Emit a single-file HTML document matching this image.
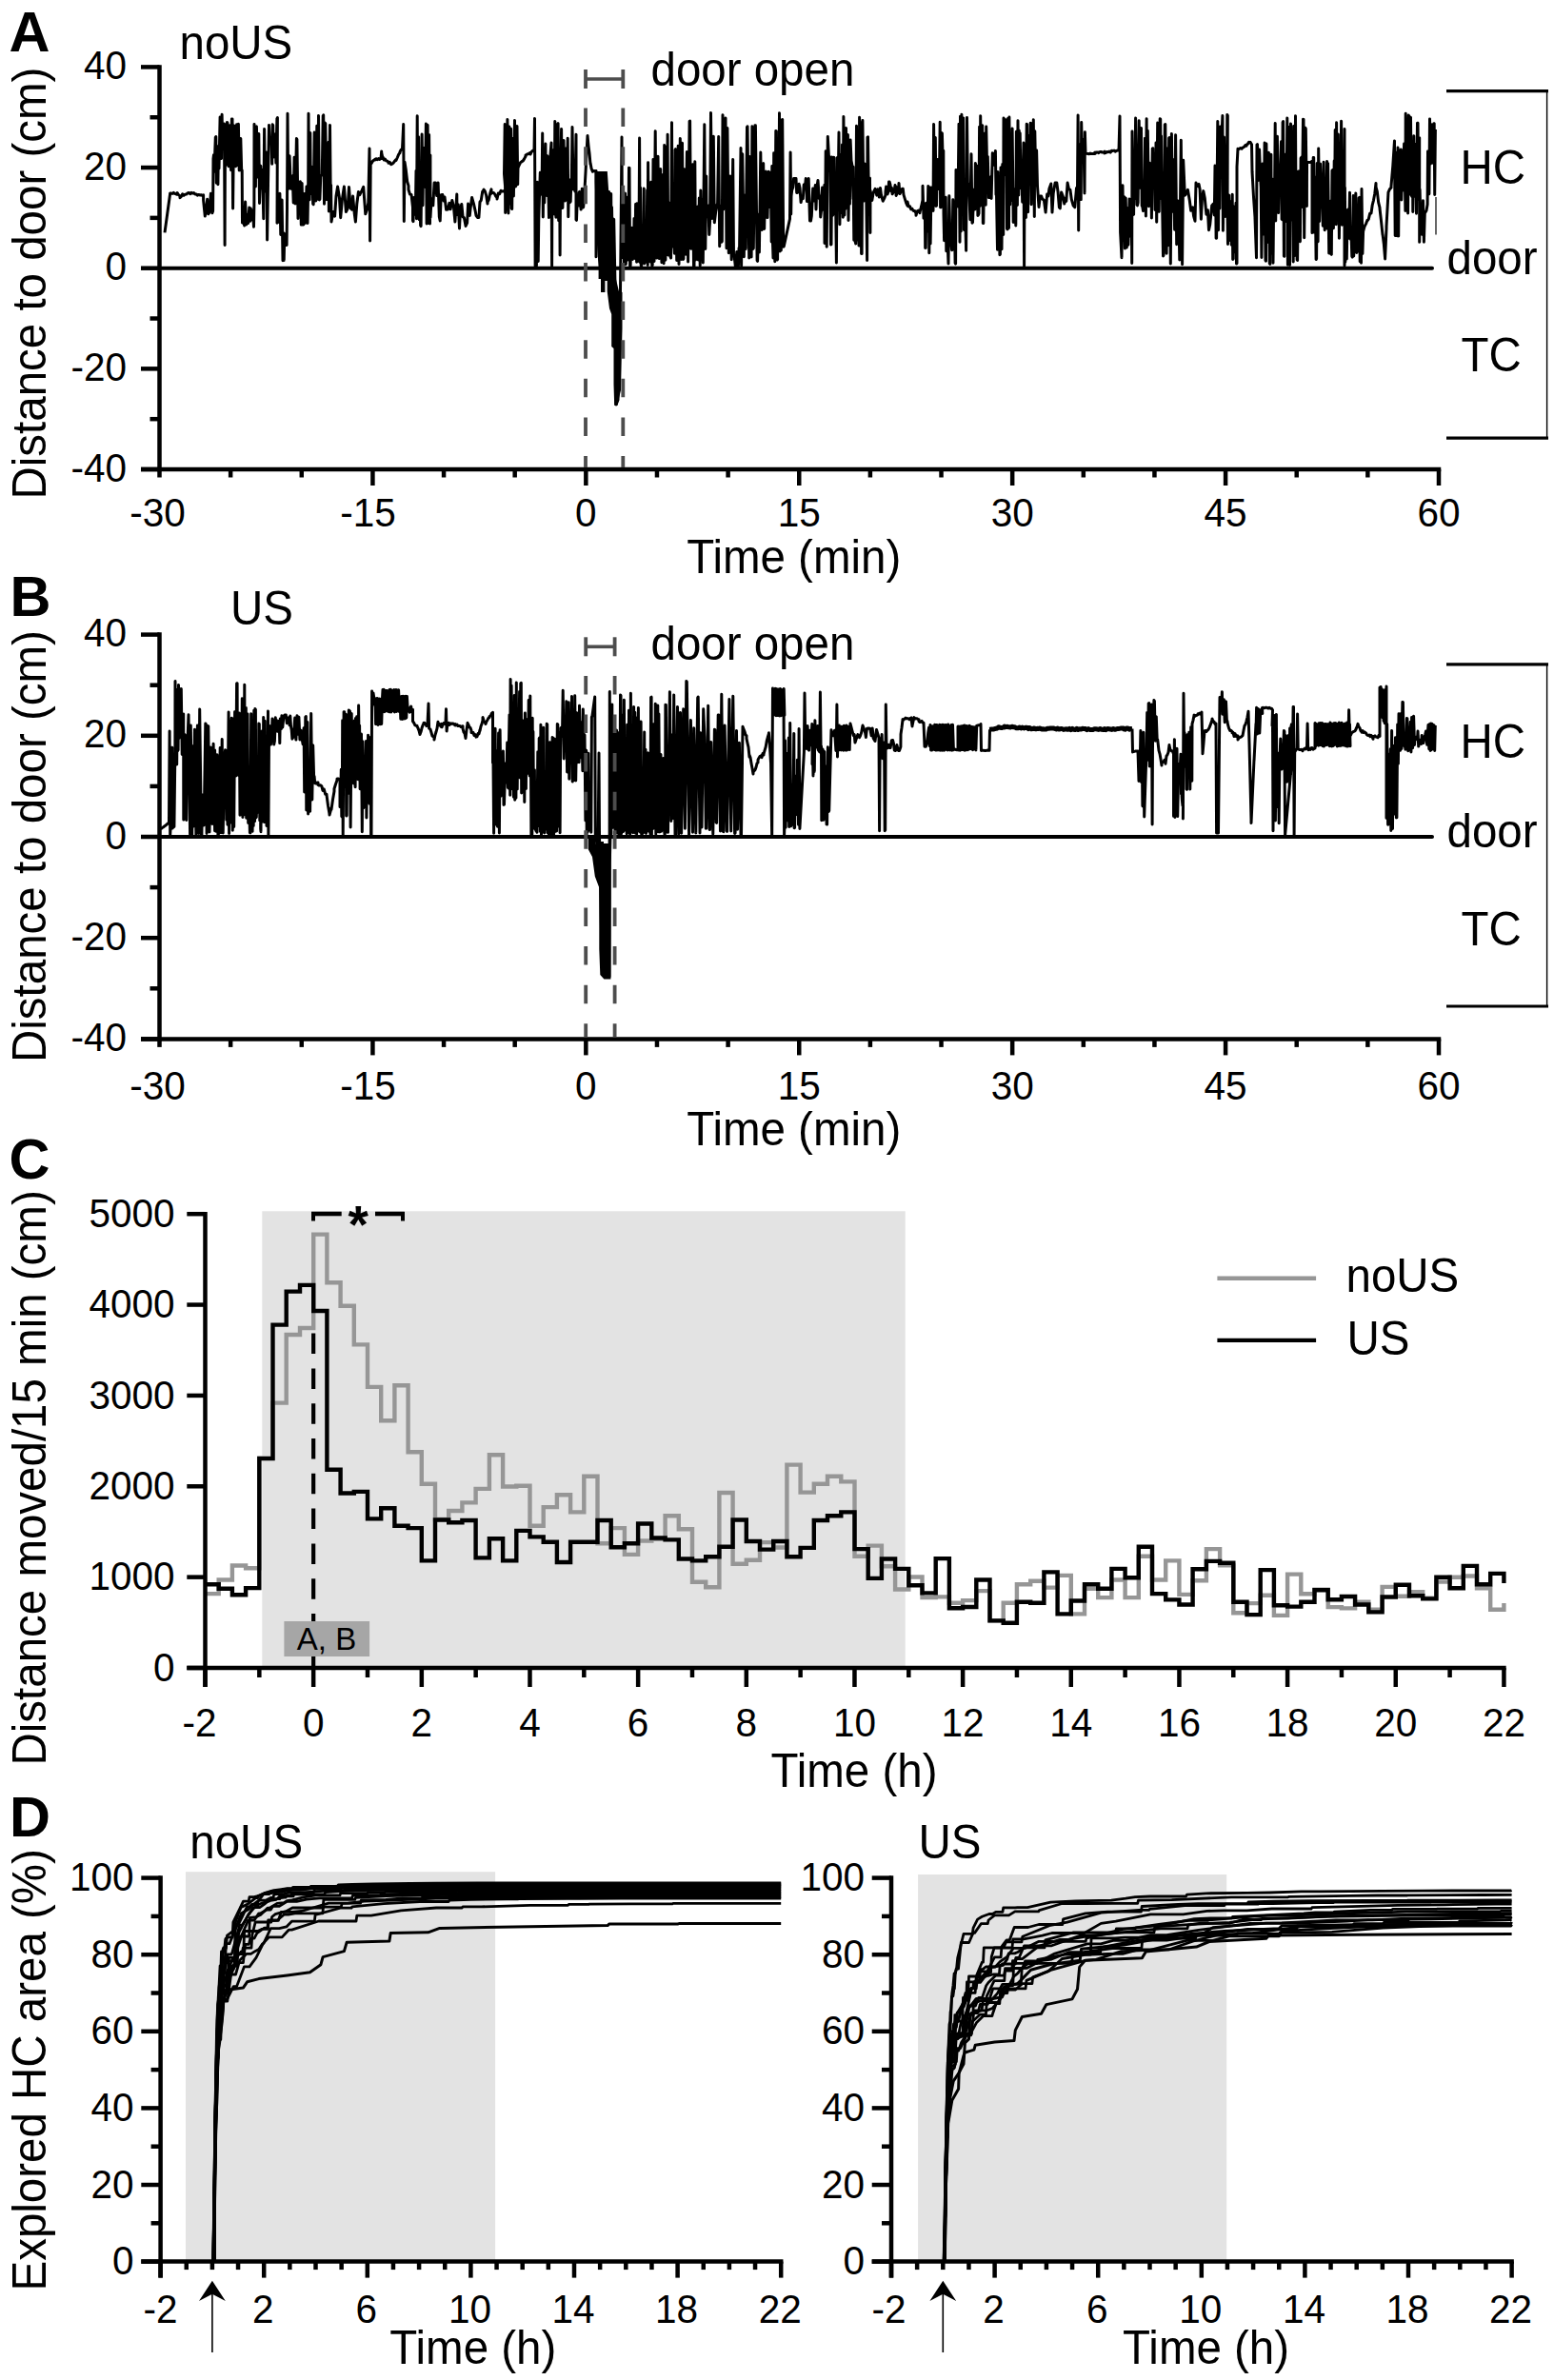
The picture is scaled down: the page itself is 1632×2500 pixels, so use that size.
<!DOCTYPE html>
<html lang="en"><head><meta charset="utf-8"><title>Figure</title>
<style>html,body{margin:0;padding:0;background:#fff}svg{display:block}</style></head>
<body>
<svg width="1632" height="2500" viewBox="0 0 1632 2500" font-family='"Liberation Sans", Arial, Helvetica, sans-serif'>
<rect x="0" y="0" width="1632" height="2500" fill="#fff"/>
<g id="panelA">
<line x1="167.5" y1="68.15" x2="167.5" y2="495.25" stroke="#000" stroke-width="4.5" stroke-linecap="butt"/>
<line x1="148" y1="70.4" x2="167.5" y2="70.4" stroke="#000" stroke-width="4.5" stroke-linecap="butt"/>
<line x1="157.5" y1="123.22500000000001" x2="167.5" y2="123.22500000000001" stroke="#000" stroke-width="4.5" stroke-linecap="butt"/>
<line x1="148" y1="176.05" x2="167.5" y2="176.05" stroke="#000" stroke-width="4.5" stroke-linecap="butt"/>
<line x1="157.5" y1="228.87500000000003" x2="167.5" y2="228.87500000000003" stroke="#000" stroke-width="4.5" stroke-linecap="butt"/>
<line x1="148" y1="281.70000000000005" x2="167.5" y2="281.70000000000005" stroke="#000" stroke-width="4.5" stroke-linecap="butt"/>
<line x1="157.5" y1="334.525" x2="167.5" y2="334.525" stroke="#000" stroke-width="4.5" stroke-linecap="butt"/>
<line x1="148" y1="387.35" x2="167.5" y2="387.35" stroke="#000" stroke-width="4.5" stroke-linecap="butt"/>
<line x1="157.5" y1="440.17500000000007" x2="167.5" y2="440.17500000000007" stroke="#000" stroke-width="4.5" stroke-linecap="butt"/>
<line x1="148" y1="493.0" x2="167.5" y2="493.0" stroke="#000" stroke-width="4.5" stroke-linecap="butt"/>
<text transform="translate(133 83.0) scale(1 1.04)" font-size="40.5" text-anchor="end" font-weight="normal" fill="#000">40</text>
<text transform="translate(133 188.7) scale(1 1.04)" font-size="40.5" text-anchor="end" font-weight="normal" fill="#000">20</text>
<text transform="translate(133 294.3) scale(1 1.04)" font-size="40.5" text-anchor="end" font-weight="normal" fill="#000">0</text>
<text transform="translate(133 400.0) scale(1 1.04)" font-size="40.5" text-anchor="end" font-weight="normal" fill="#000">-20</text>
<text transform="translate(133 505.6) scale(1 1.04)" font-size="40.5" text-anchor="end" font-weight="normal" fill="#000">-40</text>
<line x1="148" y1="493.0" x2="1513.25" y2="493.0" stroke="#000" stroke-width="4.5" stroke-linecap="butt"/>
<line x1="167.5" y1="493.0" x2="167.5" y2="501.5" stroke="#000" stroke-width="4.5" stroke-linecap="butt"/>
<line x1="242.13888888888889" y1="493.0" x2="242.13888888888889" y2="501.5" stroke="#000" stroke-width="4.5" stroke-linecap="butt"/>
<line x1="316.77777777777777" y1="493.0" x2="316.77777777777777" y2="501.5" stroke="#000" stroke-width="4.5" stroke-linecap="butt"/>
<line x1="391.41666666666663" y1="493.0" x2="391.41666666666663" y2="510.0" stroke="#000" stroke-width="4.5" stroke-linecap="butt"/>
<line x1="466.05555555555554" y1="493.0" x2="466.05555555555554" y2="501.5" stroke="#000" stroke-width="4.5" stroke-linecap="butt"/>
<line x1="540.6944444444445" y1="493.0" x2="540.6944444444445" y2="501.5" stroke="#000" stroke-width="4.5" stroke-linecap="butt"/>
<line x1="615.3333333333333" y1="493.0" x2="615.3333333333333" y2="510.0" stroke="#000" stroke-width="4.5" stroke-linecap="butt"/>
<line x1="689.9722222222222" y1="493.0" x2="689.9722222222222" y2="501.5" stroke="#000" stroke-width="4.5" stroke-linecap="butt"/>
<line x1="764.6111111111111" y1="493.0" x2="764.6111111111111" y2="501.5" stroke="#000" stroke-width="4.5" stroke-linecap="butt"/>
<line x1="839.25" y1="493.0" x2="839.25" y2="510.0" stroke="#000" stroke-width="4.5" stroke-linecap="butt"/>
<line x1="913.8888888888889" y1="493.0" x2="913.8888888888889" y2="501.5" stroke="#000" stroke-width="4.5" stroke-linecap="butt"/>
<line x1="988.5277777777777" y1="493.0" x2="988.5277777777777" y2="501.5" stroke="#000" stroke-width="4.5" stroke-linecap="butt"/>
<line x1="1063.1666666666665" y1="493.0" x2="1063.1666666666665" y2="510.0" stroke="#000" stroke-width="4.5" stroke-linecap="butt"/>
<line x1="1137.8055555555557" y1="493.0" x2="1137.8055555555557" y2="501.5" stroke="#000" stroke-width="4.5" stroke-linecap="butt"/>
<line x1="1212.4444444444443" y1="493.0" x2="1212.4444444444443" y2="501.5" stroke="#000" stroke-width="4.5" stroke-linecap="butt"/>
<line x1="1287.0833333333333" y1="493.0" x2="1287.0833333333333" y2="510.0" stroke="#000" stroke-width="4.5" stroke-linecap="butt"/>
<line x1="1361.7222222222222" y1="493.0" x2="1361.7222222222222" y2="501.5" stroke="#000" stroke-width="4.5" stroke-linecap="butt"/>
<line x1="1436.361111111111" y1="493.0" x2="1436.361111111111" y2="501.5" stroke="#000" stroke-width="4.5" stroke-linecap="butt"/>
<line x1="1511.0" y1="493.0" x2="1511.0" y2="510.0" stroke="#000" stroke-width="4.5" stroke-linecap="butt"/>
<text transform="translate(165.5 552.8) scale(1 1.04)" font-size="40.5" text-anchor="middle" font-weight="normal" fill="#000">-30</text>
<text transform="translate(386.4 552.8) scale(1 1.04)" font-size="40.5" text-anchor="middle" font-weight="normal" fill="#000">-15</text>
<text transform="translate(615.3 552.8) scale(1 1.04)" font-size="40.5" text-anchor="middle" font-weight="normal" fill="#000">0</text>
<text transform="translate(839.2 552.8) scale(1 1.04)" font-size="40.5" text-anchor="middle" font-weight="normal" fill="#000">15</text>
<text transform="translate(1063.2 552.8) scale(1 1.04)" font-size="40.5" text-anchor="middle" font-weight="normal" fill="#000">30</text>
<text transform="translate(1287.1 552.8) scale(1 1.04)" font-size="40.5" text-anchor="middle" font-weight="normal" fill="#000">45</text>
<text transform="translate(1511.0 552.8) scale(1 1.04)" font-size="40.5" text-anchor="middle" font-weight="normal" fill="#000">60</text>
<text transform="translate(833.7 602.3) scale(1 1.04)" font-size="47.5" text-anchor="middle" font-weight="normal" fill="#000">Time (min)</text>
<line x1="167.5" y1="281.7" x2="1504" y2="281.7" stroke="#000" stroke-width="4" stroke-linecap="round"/>
<text transform="translate(47.7 524.5) rotate(-90) scale(1 1.04)" font-size="47.5" text-anchor="start" font-weight="normal" fill="#000">Distance to door (cm)</text>
<text transform="translate(9.5 54)" font-size="59.5" text-anchor="start" font-weight="bold" fill="#000">A</text>
<text transform="translate(188.5 61.5) scale(1 1.04)" font-size="47.5" text-anchor="start" font-weight="normal" fill="#000">noUS</text>
<text transform="translate(683.5 89.5) scale(1 1.04)" font-size="47.5" text-anchor="start" font-weight="normal" fill="#000">door open</text>
<line x1="1519" y1="95.7" x2="1626" y2="95.7" stroke="#000" stroke-width="3.2" stroke-linecap="butt"/>
<line x1="1519" y1="460.2" x2="1626" y2="460.2" stroke="#000" stroke-width="3.2" stroke-linecap="butt"/>
<line x1="1624.6" y1="95.7" x2="1624.6" y2="460.2" stroke="#000" stroke-width="1.4" stroke-linecap="butt"/>
<text transform="translate(1533.5 193) scale(1 1.04)" font-size="47.5" text-anchor="start" font-weight="normal" fill="#000">HC</text>
<text transform="translate(1519.5 287.5) scale(1 1.04)" font-size="47.5" text-anchor="start" font-weight="normal" fill="#000">door</text>
<text transform="translate(1534.5 389.5) scale(1 1.04)" font-size="47.5" text-anchor="start" font-weight="normal" fill="#000">TC</text>
<polyline points="173.0,244.4 175.8,224.0 178.6,203.8 178.6,202.9 179.8,203.1 181.1,203.4 182.3,202.4 183.5,203.4 184.8,203.8 186.0,204.3 186.0,202.4 187.5,204.7 189.0,205.9 189.0,207.8 190.3,206.5 191.7,203.8 193.0,205.3 193.0,205.2 194.3,204.3 195.7,204.1 197.0,202.9 198.3,202.4 199.7,203.7 201.0,202.4 201.0,202.7 202.3,203.0 203.5,202.6 204.8,203.9 206.0,203.9 207.3,205.1 208.6,204.4 209.8,204.9 211.1,204.7 212.3,205.3 213.6,204.9 213.6,210.4 215.3,227.0 216.8,216.9 217.7,209.3 218.7,224.8 219.8,223.3 221.4,203.3 222.9,223.8 223.6,221.7 224.0,166.7 224.5,162.7 225.0,180.2 226.3,144.4 226.8,143.6 227.3,192.2 227.8,159.9 228.3,160.4 228.9,193.8 229.4,153.5 230.0,177.0 231.1,123.0 232.0,165.5 232.5,166.5 233.1,120.2 233.7,152.0 234.2,151.2 235.5,130.0 236.1,257.5 236.5,134.5 237.7,173.1 238.5,128.4 239.0,129.2 240.1,174.8 240.6,174.2 241.5,131.7 242.6,178.8 243.4,124.9 244.0,125.0 244.6,219.0 245.0,180.0 246.0,132.1 246.5,132.5 247.0,174.6 247.5,174.7 248.6,130.8 249.1,173.6 249.6,173.1 250.4,130.2 251.2,178.9 251.7,178.7 252.8,145.6 253.7,179.8 254.2,178.9 254.5,233.9 255.0,234.2 255.8,231.2 256.6,236.9 257.6,212.0 258.7,236.0 259.4,225.3 260.6,234.4 261.8,217.9 262.8,232.3 263.3,219.0 264.6,230.8 265.6,220.7 266.5,238.3 266.9,214.8 267.0,130.4 268.4,196.0 268.9,133.5 269.4,132.9 270.9,186.0 271.8,140.4 272.5,213.4 273.8,174.3 274.9,197.7 275.6,178.5 276.8,229.7 277.6,135.4 278.3,200.9 280.0,160.0 280.6,252.0 282.5,131.5 283.3,149.4 283.8,148.4 285.0,144.3 285.7,172.2 286.2,130.8 286.7,131.5 287.3,165.0 287.8,164.1 288.8,141.1 289.9,171.1 290.9,124.6 291.4,123.6 291.0,234.3 291.5,233.8 292.1,203.7 293.0,233.3 293.9,203.2 294.8,246.5 295.3,246.5 296.1,210.0 297.0,273.7 297.5,244.4 298.2,273.4 298.8,245.4 299.5,256.4 300.2,250.4 300.6,257.6 301.1,257.4 301.5,217.9 302.0,119.2 302.7,198.3 303.2,197.6 304.1,163.8 305.4,198.3 306.7,185.4 307.2,184.8 308.2,213.0 309.1,165.2 310.1,214.0 311.4,145.6 311.9,146.3 313.0,229.5 313.9,191.7 314.3,221.3 315.4,190.8 316.3,236.1 317.1,192.4 318.3,236.1 318.8,235.9 320.0,203.4 320.8,234.2 322.0,195.9 322.5,196.5 323.0,234.5 323.7,197.0 324.0,119.3 324.6,209.7 325.1,209.8 325.8,139.6 326.3,203.1 326.8,203.4 327.6,175.2 328.7,214.1 329.2,214.6 330.2,139.0 331.2,209.9 331.7,210.9 332.8,132.3 333.4,208.4 333.9,209.1 334.5,121.4 335.4,209.9 335.9,209.3 336.8,184.7 337.3,184.7 338.3,183.2 339.2,121.8 339.7,120.9 340.5,214.3 341.3,129.1 341.8,129.8 342.9,209.7 343.4,186.0 344.3,196.9 345.1,149.3 345.4,221.9 346.5,131.4 347.1,194.9 347.6,194.3 348.0,233.0 349.9,222.4 351.6,227.2 353.0,205.9 354.6,196.0 356.5,208.1 357.7,228.7 359.5,208.7 361.4,196.0 363.4,222.6 365.1,219.0 366.5,196.5 368.2,218.6 369.7,220.2 370.6,206.1 372.3,224.9 373.4,233.0 374.8,214.3 376.4,201.6 377.8,204.6 379.9,200.4 381.7,196.4 383.8,224.8 385.6,219.8 386.8,213.1 388.0,156.0 388.6,253.0 389.2,170.0 390.0,171.7 391.3,169.4 392.7,168.1 394.0,168.0 394.0,167.1 395.2,166.8 396.4,167.7 397.6,166.6 398.8,167.4 400.0,166.3 400.0,166.7 400.7,159.0 400.7,160.2 402.0,166.6 402.0,164.9 403.2,168.0 404.4,167.2 405.6,168.9 406.8,169.2 408.0,171.0 408.0,171.3 409.3,170.3 410.7,172.7 412.0,171.8 412.0,172.1 413.3,170.9 414.7,169.0 416.0,167.5 416.0,168.4 417.3,165.5 418.7,162.1 420.0,160.5 420.0,159.5 421.2,157.3 422.5,156.4 423.7,130.6 424.3,232.4 424.9,175.0 425.0,170.3 426.3,178.6 427.7,190.7 429.0,195.1 429.0,199.2 430.5,204.0 432.0,204.4 433.5,217.9 433.5,231.8 434.0,232.6 434.7,207.6 435.2,207.7 436.3,225.4 437.0,179.6 437.5,229.8 438.2,121.7 438.7,227.5 439.6,143.7 440.3,230.8 441.0,201.2 441.6,236.8 442.1,237.6 443.1,140.9 444.0,215.7 444.8,156.1 445.3,155.6 446.4,196.5 447.4,130.1 448.1,235.1 448.6,131.1 449.1,131.5 449.9,234.6 450.6,141.4 451.5,234.9 451.9,163.0 452.0,228.3 453.1,208.5 454.8,215.8 456.1,192.0 457.3,192.0 458.7,205.6 460.1,192.0 461.3,227.6 462.2,231.9 463.2,204.8 464.8,204.5 466.0,210.9 467.0,207.0 468.6,220.3 470.3,220.1 471.9,213.3 473.1,219.7 474.8,210.4 476.4,216.6 477.9,233.0 479.8,203.9 480.0,225.5 481.2,214.7 482.5,240.0 483.6,218.6 484.8,214.5 486.1,227.8 487.4,228.8 489.1,237.5 490.6,234.2 491.6,214.1 493.3,226.4 494.2,217.7 495.6,207.5 497.5,214.2 499.1,221.3 500.0,226.3 501.5,228.4 502.9,228.5 504.0,212.1 505.3,210.3 506.7,201.2 508.0,199.7 508.0,199.0 509.3,200.9 510.7,205.4 512.0,213.9 512.0,212.2 513.3,209.9 514.7,203.3 516.0,198.9 516.0,203.3 517.2,202.4 518.4,202.4 519.6,203.9 520.8,206.3 522.0,207.5 522.0,208.9 523.3,203.0 524.7,203.6 526.0,200.2 526.0,201.5 527.2,200.9 528.5,200.8 529.8,201.0 531.0,201.2 529.5,182.8 530.2,130.4 530.7,223.5 531.3,213.6 531.8,213.5 532.4,218.4 532.9,125.4 533.9,224.0 534.8,133.0 535.2,213.9 535.7,213.4 536.6,135.3 537.2,219.0 537.7,219.5 538.4,145.4 539.4,205.9 540.5,126.4 541.4,196.0 541.9,195.1 543.0,132.5 543.7,193.6 544.0,176.5 545.3,173.2 546.7,170.5 548.0,169.9 548.0,169.6 549.3,168.9 550.7,166.6 552.0,164.3 552.0,163.0 553.7,162.0 555.3,161.5 557.0,160.3 557.0,162.1 558.3,159.4 559.7,158.1 561.0,157.5 561.5,124.6 562.1,279.5 563.0,195.2 563.4,279.3 564.3,191.3 564.7,274.5 565.2,274.5 565.8,229.5 566.0,222.0 567.3,181.3 567.8,182.0 568.5,203.8 569.0,204.4 569.7,140.1 570.3,228.1 571.1,162.5 571.7,213.0 572.9,151.1 573.4,205.3 573.9,205.4 574.8,163.8 575.3,164.8 576.5,228.6 577.3,171.1 579.0,150.0 579.6,279.5 580.0,157.5 580.7,208.3 581.4,159.3 582.2,225.1 582.8,127.6 583.9,228.2 584.4,228.0 585.6,130.4 586.1,129.7 586.7,231.8 587.5,160.0 588.1,268.0 588.5,199.8 589.6,135.4 590.4,218.5 590.9,218.3 592.0,147.4 593.2,211.0 593.7,210.7 594.4,155.9 595.0,206.9 596.2,145.2 596.8,227.7 597.5,188.4 598.1,213.0 599.2,211.8 599.8,191.7 600.3,190.9 601.0,133.6 602.1,199.0 602.9,184.2 603.4,185.2 604.0,201.2 605.0,141.3 605.0,230.7 605.5,231.3 606.3,207.3 607.0,215.8 607.5,215.9 608.1,202.1 608.6,201.4 610.1,220.1 611.3,198.2 612.2,218.1 612.7,217.5 613.7,204.0 614.2,203.7 614.0,199.0 615.0,181.1 616.0,161.3 617.0,143.2 617.0,142.5 618.0,153.1 619.0,160.9 620.0,172.5 620.0,170.9 621.2,177.4 622.5,180.3 622.5,179.9 623.7,179.4 624.8,179.7 626.0,179.6 626.0,269.7 626.8,209.3 627.3,241.0 627.9,193.4 628.4,253.4 628.9,253.8 629.7,193.0 630.4,273.5 630.7,202.5 631.2,202.3 631.8,268.1 632.4,185.3 632.9,184.9 633.4,275.5 634.2,190.2 635.0,234.2 635.5,234.7 636.1,203.7 636.5,275.3 637.0,211.0 637.5,210.6 638.0,235.8 638.5,218.1 639.1,274.1 639.6,201.6 640.4,254.6 640.9,254.2 641.7,203.6 642.1,268.6 642.5,217.7 643.4,270.1 643.9,270.9 644.2,230.1 644.7,230.5 646.0,300.0 647.0,425.0 649.0,420.0 651.5,306.0 652.5,200.0 653.0,144.0 653.5,270.2 654.0,270.6 655.0,215.5 655.5,278.3 656.0,203.8 656.5,203.2 657.3,277.4 658.3,207.2 658.8,273.3 659.4,253.7 659.8,270.3 660.5,176.3 661.0,176.5 661.6,279.4 662.1,279.0 663.0,239.8 663.5,239.4 664.3,272.4 664.6,245.9 665.5,264.7 666.0,229.4 666.9,271.5 667.6,214.6 668.6,275.3 669.0,213.8 669.5,274.6 671.0,250.0 671.6,145.0 672.2,270.0 672.0,275.5 672.5,197.0 673.2,279.1 673.7,279.3 674.6,239.9 675.1,239.2 675.5,271.7 676.2,197.9 676.6,277.0 677.4,235.4 677.9,234.7 678.4,275.3 678.9,275.0 679.7,199.7 680.2,278.4 680.6,170.7 681.6,274.3 682.0,200.9 682.5,201.8 682.9,275.1 683.8,191.3 684.7,279.1 685.2,278.6 686.0,167.5 686.5,273.4 687.0,274.4 688.2,137.7 689.2,271.1 689.7,271.1 691.0,164.3 692.1,271.5 692.6,271.3 693.7,177.6 694.9,275.7 696.2,183.5 697.1,276.8 697.7,152.6 698.4,273.4 698.9,272.9 699.8,153.9 700.0,266.4 700.5,266.1 701.1,141.2 701.7,268.1 702.2,267.6 703.1,213.3 704.1,270.0 704.6,270.9 705.5,128.7 706.1,258.9 707.0,239.6 708.4,266.2 709.0,157.3 709.5,156.6 710.7,273.6 711.2,273.2 712.2,153.3 713.0,277.6 714.3,145.6 715.6,272.5 716.5,150.3 717.4,272.6 717.9,271.7 718.5,177.8 720.1,267.3 721.4,159.4 722.6,275.1 724.1,127.3 724.6,127.1 725.6,261.3 726.1,261.1 727.0,172.9 727.5,172.8 728.5,279.3 729.0,279.6 729.8,169.7 730.5,273.0 731.8,217.5 732.3,217.2 733.2,272.9 733.7,272.7 734.3,208.0 735.2,279.0 735.8,199.9 736.6,257.2 737.4,210.0 738.3,276.1 739.8,130.8 740.8,261.5 741.7,185.0 742.0,227.8 742.5,227.8 743.4,216.6 743.9,216.0 744.8,246.4 745.6,231.9 746.5,118.4 747.8,229.4 749.3,143.3 750.3,233.8 751.7,222.1 753.1,214.7 753.6,215.0 754.7,143.5 755.7,258.8 756.5,216.6 757.0,216.2 757.8,254.3 758.3,253.4 759.0,120.7 759.7,220.1 760.5,149.3 762.0,123.9 763.0,260.8 763.9,134.6 765.3,265.8 766.9,185.0 768.2,272.7 769.7,167.4 770.5,268.7 771.0,267.7 772.3,279.5 772.8,279.9 773.8,264.4 774.9,279.5 775.4,279.9 776.1,260.3 776.6,259.9 778.0,155.4 778.6,279.2 779.7,161.8 781.3,269.8 782.3,205.2 783.3,261.4 784.5,133.6 785.0,132.8 786.7,271.1 787.8,164.6 788.3,164.7 789.1,269.9 789.9,132.7 790.8,261.6 791.3,260.7 792.9,131.7 793.4,131.7 795.1,273.6 795.6,274.3 796.8,225.1 797.4,264.9 798.8,160.1 800.0,241.6 801.2,172.3 801.7,171.7 802.2,240.4 802.7,240.1 803.8,180.5 804.3,180.0 805.5,228.4 806.0,228.5 807.2,180.2 808.3,217.6 809.4,180.9 810.2,254.0 810.8,174.4 811.4,252.2 812.0,270.9 812.7,160.8 813.8,274.8 814.8,137.4 815.3,137.9 816.1,273.1 816.6,272.4 817.3,145.4 817.7,254.9 818.5,118.8 819.1,263.9 819.5,147.1 820.3,262.9 821.2,125.9 821.7,125.5 822.7,259.3 823.2,259.0 829.5,230.0 830.1,160.0 830.7,225.0 831.0,205.8 831.7,199.7 832.8,196.7 833.6,187.5 834.9,187.5 836.0,187.5 836.7,202.5 838.0,202.0 839.1,193.3 840.0,197.4 841.1,212.6 842.2,207.1 843.3,208.6 844.2,194.0 845.6,194.8 846.3,187.5 847.5,211.6 848.3,206.8 849.2,187.5 850.5,232.0 851.5,232.0 852.3,227.1 853.7,198.1 854.9,211.1 856.3,194.4 857.0,220.0 857.8,197.0 859.0,189.5 860.3,208.6 861.1,205.7 861.7,228.0 862.8,218.9 863.6,196.9 864.8,220.4 865.9,194.2 866.0,255.6 866.5,254.7 867.2,158.7 868.2,259.2 869.3,143.4 870.4,163.9 870.9,164.1 872.0,181.1 872.5,257.0 873.0,256.7 873.7,165.0 874.3,226.3 874.8,225.6 875.8,165.2 876.3,202.7 876.9,193.6 877.4,194.6 878.4,276.0 879.1,165.7 879.6,166.0 880.0,208.4 881.0,138.9 881.9,235.8 882.9,163.1 883.9,223.4 884.5,152.1 885.3,228.3 885.9,122.5 886.9,226.0 887.4,169.1 887.9,219.5 888.5,134.4 889.5,204.0 890.0,204.8 890.4,141.6 891.0,231.5 892.0,168.4 892.4,214.3 893.1,147.0 894.0,168.9 895.0,174.1 896.0,208.9 896.0,175.2 896.8,252.3 897.3,252.1 897.8,252.2 898.7,255.9 899.5,132.2 900.0,252.1 900.5,186.3 900.9,210.6 901.2,202.2 902.0,258.1 902.6,123.2 903.0,257.9 903.5,257.9 904.1,128.4 904.6,266.6 905.1,266.5 905.9,126.4 906.9,209.9 907.4,210.9 908.1,172.1 908.9,203.4 909.3,206.2 909.8,206.8 910.6,273.4 911.0,144.2 911.5,143.8 912.6,225.1 913.1,224.9 913.5,187.0 913.9,244.4 914.0,200.0 915.8,210.4 917.2,202.3 919.1,198.3 920.8,205.1 921.9,198.8 923.3,207.1 924.5,197.5 925.4,204.5 927.2,211.2 928.6,208.6 929.9,205.2 930.0,201.2 930.6,196.1 931.4,198.5 932.1,203.9 933.1,200.8 933.5,191.0 934.1,191.0 934.9,193.7 935.7,200.5 936.4,197.1 937.1,203.8 938.0,202.5 938.5,200.8 939.1,201.0 940.0,194.6 940.6,196.0 941.1,205.4 942.1,203.1 942.7,196.4 943.6,199.9 944.0,192.4 944.9,203.6 945.6,202.5 946.5,199.4 947.5,198.3 948.3,198.3 949.0,204.6 950.3,208.9 951.7,213.4 953.0,216.1 953.0,211.9 954.2,216.9 955.5,216.7 956.8,219.8 958.0,219.4 958.0,219.7 959.3,221.4 960.7,221.4 962.0,224.1 962.0,226.2 963.3,221.9 964.7,221.1 966.0,223.7 966.0,222.8 967.5,217.2 969.0,210.1 969.0,195.2 970.0,229.2 970.5,229.0 971.3,214.0 971.7,260.5 972.2,260.4 972.9,213.3 973.9,242.9 974.8,195.5 975.3,196.0 975.8,265.7 976.3,202.3 977.1,255.9 978.0,197.0 978.8,212.8 979.7,202.2 980.2,201.7 980.0,221.5 980.6,130.4 981.3,195.0 982.3,144.6 983.0,216.4 983.5,216.0 984.5,167.4 985.0,167.8 985.8,197.6 986.3,198.5 987.2,128.2 987.6,217.7 988.1,217.8 988.9,139.6 989.4,140.1 990.2,169.7 990.8,158.3 991.0,224.6 991.6,252.6 992.1,252.7 992.7,207.4 993.2,207.3 993.8,263.7 994.4,246.5 994.9,247.2 996.0,277.0 996.8,205.7 997.9,253.1 998.5,250.4 999.6,262.7 1000.1,262.6 1000.8,209.7 1001.6,228.6 1002.2,212.8 1003.1,276.3 1003.6,277.1 1004.0,178.4 1005.1,206.6 1005.6,206.9 1006.0,217.0 1007.0,130.2 1008.0,254.2 1008.5,122.2 1009.2,243.0 1009.9,120.2 1010.4,217.2 1011.2,124.4 1011.7,124.0 1012.4,241.4 1013.5,215.5 1014.6,263.2 1015.5,123.4 1016.4,196.5 1016.9,196.5 1017.0,192.9 1017.5,193.6 1018.9,230.7 1020.0,161.8 1021.0,234.2 1021.5,233.4 1022.7,199.1 1023.9,220.1 1024.4,171.4 1025.1,214.0 1026.2,174.2 1026.9,226.4 1027.4,225.9 1028.0,224.0 1028.6,133.3 1029.2,216.6 1029.7,121.8 1030.7,209.9 1031.7,131.7 1032.3,234.6 1032.8,234.5 1034.0,140.2 1035.2,215.2 1035.7,133.0 1036.7,181.4 1037.3,164.4 1038.4,207.6 1038.9,207.6 1039.6,186.6 1040.1,186.0 1041.1,208.5 1042.3,160.8 1042.8,161.2 1043.9,173.3 1044.4,172.5 1045.4,158.4 1046.0,204.6 1046.5,204.2 1047.5,262.2 1047.9,180.4 1048.4,253.1 1049.2,197.7 1049.9,267.8 1050.4,266.9 1051.0,176.0 1052.0,261.7 1052.8,172.4 1053.7,246.6 1054.0,124.1 1054.5,125.0 1055.6,183.6 1056.0,126.5 1056.5,125.9 1057.5,240.3 1058.0,240.9 1058.7,124.2 1059.5,239.5 1059.9,123.1 1060.7,215.1 1061.3,146.4 1062.4,210.4 1063.1,135.1 1064.2,233.5 1065.2,198.8 1065.7,198.8 1066.8,236.9 1067.4,138.2 1067.9,215.0 1068.4,215.4 1069.0,126.7 1069.8,205.0 1070.2,137.1 1070.7,198.0 1071.2,139.7 1071.9,183.7 1072.6,189.2 1073.1,189.8 1073.7,212.3 1075.0,150.0 1075.6,279.5 1076.0,187.2 1076.8,155.6 1077.4,228.5 1078.2,130.2 1078.7,130.8 1079.6,222.7 1080.7,142.2 1081.7,184.8 1082.2,129.2 1082.7,130.1 1083.1,214.8 1083.7,129.9 1084.8,195.8 1085.3,125.8 1086.3,227.4 1086.8,137.7 1087.7,186.8 1088.2,187.3 1088.6,157.7 1089.5,195.5 1091.0,217.5 1092.4,205.9 1093.6,206.1 1094.7,209.1 1096.4,210.3 1098.1,223.0 1099.7,203.9 1100.9,205.9 1101.9,198.3 1103.8,193.0 1105.0,223.1 1106.2,202.9 1108.1,192.0 1109.8,192.0 1111.0,201.0 1112.4,217.8 1113.3,218.9 1114.6,201.9 1116.3,206.2 1117.8,214.1 1118.9,208.1 1119.8,211.4 1121.1,192.0 1122.6,199.1 1123.9,199.3 1125.3,209.4 1127.2,216.0 1128.8,217.7 1130.5,197.6 1131.5,200.0 1132.1,121.0 1132.7,242.0 1133.0,197.9 1133.7,151.5 1134.2,152.1 1134.7,209.5 1135.2,209.6 1135.7,128.6 1136.6,170.6 1137.5,146.5 1138.0,146.5 1139.0,202.9 1139.4,138.8 1140.0,160.8 1141.2,161.3 1142.5,161.5 1143.8,161.8 1145.0,161.1 1146.2,161.5 1147.5,161.5 1148.8,161.3 1150.0,160.1 1150.0,161.4 1151.2,160.1 1152.5,159.9 1153.8,160.6 1155.0,159.5 1156.2,159.5 1157.5,160.0 1158.8,160.1 1160.0,159.2 1160.0,160.9 1161.2,160.5 1162.5,159.6 1163.8,159.7 1165.0,159.0 1166.2,160.1 1167.5,158.2 1168.8,158.4 1170.0,158.1 1171.2,159.2 1172.5,158.4 1173.8,158.0 1175.0,157.8 1176.0,122.0 1176.6,244.0 1178.0,270.7 1179.0,194.8 1179.8,252.4 1180.4,206.4 1181.4,260.9 1182.2,208.1 1183.3,260.0 1184.3,218.8 1184.9,257.2 1186.1,208.9 1187.0,247.7 1187.5,248.3 1188.3,210.9 1188.7,276.5 1189.0,138.0 1190.1,224.5 1190.6,225.3 1191.1,174.1 1191.7,208.9 1192.6,124.1 1193.2,184.5 1194.0,215.3 1194.5,215.8 1195.1,212.8 1196.2,126.7 1197.0,197.0 1197.5,197.3 1198.5,134.4 1199.2,216.3 1199.7,216.5 1200.5,221.5 1201.6,220.8 1202.5,145.3 1203.4,227.1 1204.1,124.7 1204.5,208.7 1205.3,137.3 1206.4,216.7 1206.9,216.0 1207.4,171.3 1208.0,209.4 1208.9,181.1 1209.4,229.1 1210.3,155.9 1210.8,155.8 1211.4,181.1 1212.4,161.7 1213.0,220.4 1213.5,220.6 1214.0,149.9 1214.7,233.2 1215.7,129.1 1216.7,221.5 1217.2,222.3 1218.2,124.7 1218.7,125.1 1219.1,208.4 1219.5,142.8 1220.0,204.6 1220.5,204.4 1221.5,269.0 1222.0,268.0 1223.3,130.9 1223.8,130.5 1225.1,266.2 1225.9,156.0 1226.8,257.8 1227.7,144.9 1228.2,144.5 1229.3,276.9 1230.4,140.5 1231.3,222.3 1232.5,167.8 1233.6,241.2 1234.6,141.8 1235.7,256.7 1236.2,255.7 1237.1,211.0 1237.6,211.6 1238.8,273.0 1240.3,147.2 1241.6,277.8 1242.7,168.2 1244.3,205.3 1244.8,204.8 1246.0,202.3 1247.4,199.3 1249.3,210.5 1250.7,221.2 1252.6,217.9 1253.5,226.5 1255.0,232.2 1256.0,192.0 1257.3,195.5 1259.0,193.4 1260.1,198.7 1261.4,230.3 1262.5,207.4 1263.8,200.6 1265.3,208.3 1266.9,225.2 1268.4,220.7 1269.5,241.7 1270.7,236.0 1272.7,216.0 1274.2,214.1 1275.3,225.9 1276.0,174.1 1276.5,174.7 1277.1,250.2 1277.6,250.2 1278.8,127.5 1279.5,241.7 1280.4,139.8 1280.9,218.9 1281.6,132.9 1282.1,154.2 1282.6,153.7 1283.9,121.6 1284.4,242.2 1285.5,144.1 1286.8,227.4 1287.9,164.9 1288.3,216.0 1288.8,120.5 1289.3,121.4 1289.0,220.1 1289.5,256.5 1290.2,205.7 1290.7,205.1 1291.6,252.0 1292.1,252.7 1292.5,211.9 1293.3,257.2 1294.2,204.2 1294.7,272.6 1295.2,271.7 1295.5,218.0 1296.0,217.1 1297.0,264.8 1298.0,213.2 1298.5,277.1 1299.0,276.5 1299.0,175.2 1300.0,156.2 1300.0,157.1 1301.3,156.4 1302.7,155.5 1304.0,156.2 1304.0,156.0 1305.2,155.0 1306.5,154.4 1307.8,152.6 1309.0,153.3 1309.0,152.3 1310.3,151.3 1311.7,149.2 1313.0,149.9 1313.0,149.2 1314.5,151.7 1315.0,180.2 1316.5,206.8 1318.0,228.5 1318.0,229.5 1319.5,270.8 1320.0,152.0 1320.5,151.6 1321.1,189.6 1322.1,157.3 1322.6,157.1 1323.7,187.2 1324.2,196.6 1324.9,270.6 1326.0,171.9 1327.2,246.0 1328.1,150.1 1329.0,273.6 1329.5,274.2 1329.9,150.9 1330.8,254.5 1331.3,254.4 1332.4,160.2 1333.3,276.8 1333.8,277.4 1334.4,163.4 1334.9,162.4 1335.3,265.9 1335.9,187.8 1336.4,188.2 1337.0,276.2 1337.9,189.1 1338.6,201.2 1339.2,129.5 1339.7,232.0 1340.9,144.2 1341.4,143.3 1342.1,222.9 1342.6,223.4 1343.5,178.2 1344.0,177.4 1344.4,179.8 1345.5,148.7 1346.1,230.3 1346.6,230.6 1347.1,128.4 1347.6,127.5 1348.4,269.1 1348.9,269.3 1348.5,166.7 1349.5,233.1 1350.4,162.0 1351.0,227.8 1351.8,124.0 1352.4,278.2 1353.2,133.3 1353.7,133.5 1354.5,278.5 1355.5,130.0 1356.5,231.0 1357.6,163.0 1358.2,274.9 1358.6,132.4 1359.1,268.6 1359.6,268.5 1360.5,121.7 1361.1,230.5 1361.7,211.8 1362.1,272.7 1362.6,273.5 1363.6,180.0 1364.1,179.9 1364.9,252.7 1365.4,253.6 1366.1,166.3 1366.6,165.4 1367.4,217.4 1368.5,125.3 1369.0,125.5 1369.7,249.7 1370.8,134.3 1371.3,135.2 1372.4,216.6 1372.5,170.4 1374.3,170.6 1376.2,170.5 1378.0,169.3 1378.0,244.4 1379.2,165.4 1379.7,165.5 1380.4,244.0 1381.1,186.0 1382.1,272.6 1382.6,271.8 1383.2,171.4 1384.1,253.8 1384.7,155.9 1385.6,232.4 1386.6,172.3 1387.5,196.8 1388.5,204.2 1389.3,237.3 1390.1,170.2 1391.2,241.8 1392.2,198.5 1392.9,216.2 1393.6,169.4 1394.1,240.3 1394.6,171.7 1395.7,265.9 1396.5,211.8 1397.0,211.4 1397.8,267.0 1398.3,267.3 1399.0,179.2 1399.5,178.5 1399.9,239.7 1400.4,239.7 1401.2,168.9 1401.6,222.4 1402.2,136.6 1403.2,235.7 1403.6,128.7 1404.1,221.0 1404.6,222.0 1405.3,141.0 1406.4,250.3 1407.3,173.6 1407.8,215.2 1408.6,127.2 1409.4,236.2 1409.9,235.5 1410.3,187.5 1410.8,188.4 1411.4,214.4 1412.0,135.6 1412.0,279.1 1412.4,197.1 1412.8,275.2 1413.6,235.8 1414.3,272.0 1415.1,220.9 1415.6,220.2 1416.1,249.3 1416.6,250.3 1417.5,202.3 1417.9,250.0 1418.4,250.6 1419.3,253.0 1419.8,269.3 1420.3,270.1 1421.3,205.6 1421.7,269.1 1422.6,209.9 1423.2,254.2 1423.8,203.0 1424.7,265.5 1425.2,264.6 1425.8,222.8 1426.1,257.9 1427.1,207.8 1427.6,207.4 1428.2,274.7 1429.1,207.8 1429.5,276.3 1430.0,198.5 1430.9,266.4 1431.6,243.2 1433.1,237.7 1434.5,235.1 1436.0,231.3 1436.0,231.9 1437.3,230.1 1438.7,224.1 1440.0,223.6 1440.0,224.1 1441.2,215.5 1442.5,210.3 1443.8,203.2 1445.0,192.4 1445.0,196.5 1446.3,201.2 1447.7,212.9 1449.0,218.1 1449.0,219.0 1450.5,232.2 1452.0,246.7 1452.0,245.9 1453.3,256.0 1454.6,272.0 1454.6,271.8 1456.0,240.0 1456.0,237.8 1458.0,201.9 1458.0,202.0 1459.5,198.6 1461.0,197.2 1461.0,195.5 1462.8,174.1 1464.5,147.9 1464.5,159.0 1465.2,247.6 1465.7,247.4 1466.5,159.9 1467.3,247.7 1468.0,154.9 1468.7,247.9 1469.3,159.0 1469.8,158.0 1470.6,192.5 1471.4,157.0 1471.8,209.9 1472.6,178.9 1473.5,199.9 1474.6,151.0 1475.0,158.7 1475.9,221.5 1476.2,119.2 1477.1,186.8 1477.6,186.8 1478.2,136.3 1478.6,224.0 1479.3,121.0 1479.6,203.4 1480.1,203.9 1481.0,122.9 1481.5,123.3 1482.3,205.3 1482.8,206.2 1483.4,153.5 1483.8,222.6 1484.8,142.7 1485.5,206.2 1486.0,205.8 1486.6,151.5 1487.5,224.3 1488.5,129.3 1489.0,129.2 1489.7,210.2 1490.2,145.6 1490.7,144.7 1490.7,254.3 1491.1,199.0 1492.2,243.1 1492.7,239.6 1493.5,246.2 1494.5,210.7 1495.4,254.3 1496.3,223.6 1496.8,223.1 1498.0,221.2 1499.1,214.8 1499.5,159.0 1500.4,203.1 1500.9,203.6 1501.5,124.9 1502.5,171.9 1503.2,130.8 1504.0,158.6 1504.8,140.6 1505.3,171.4 1505.7,129.9 1506.2,129.7 1506.7,204.5 1507.4,135.9" fill="none" stroke="#000" stroke-width="3" stroke-linejoin="round" stroke-miterlimit="3"/>
<polygon fill="#000" points="624.7,180 637.8,180 640,213 644.4,268 645.5,281 644.5,282.7 649.8,305.4 653.5,307 653.5,345 652.8,373 652,410 649.8,419 648.6,425.7 645.2,425.7 644.5,404 644.5,366 642.2,364 642.2,330 640,324 637.7,306 637.7,295 635.4,295 635.4,307 631,307 631,293 628.6,293 628.6,281 627,257 624.7,191"/>
<line x1="1508" y1="207" x2="1508" y2="246.6" stroke="#000" stroke-width="1.2" stroke-linecap="butt"/>
<line x1="615" y1="83" x2="654.3" y2="83" stroke="#4d4d4d" stroke-width="3.6" stroke-linecap="butt"/>
<line x1="615" y1="73" x2="615" y2="93" stroke="#4d4d4d" stroke-width="3.8" stroke-linecap="butt"/>
<line x1="654.3" y1="73" x2="654.3" y2="93" stroke="#4d4d4d" stroke-width="3.8" stroke-linecap="butt"/>
<line x1="615" y1="113.6" x2="615" y2="491" stroke="#4d4d4d" stroke-width="3.8" stroke-linecap="butt" stroke-dasharray="19.5 21.1"/>
<line x1="654.3" y1="113.6" x2="654.3" y2="491" stroke="#4d4d4d" stroke-width="3.8" stroke-linecap="butt" stroke-dasharray="19.5 21.1"/>
</g>
<g id="panelB">
<line x1="167.5" y1="664.35" x2="167.5" y2="1093.65" stroke="#000" stroke-width="4.5" stroke-linecap="butt"/>
<line x1="148" y1="666.6" x2="167.5" y2="666.6" stroke="#000" stroke-width="4.5" stroke-linecap="butt"/>
<line x1="157.5" y1="719.7" x2="167.5" y2="719.7" stroke="#000" stroke-width="4.5" stroke-linecap="butt"/>
<line x1="148" y1="772.8000000000001" x2="167.5" y2="772.8000000000001" stroke="#000" stroke-width="4.5" stroke-linecap="butt"/>
<line x1="157.5" y1="825.9000000000001" x2="167.5" y2="825.9000000000001" stroke="#000" stroke-width="4.5" stroke-linecap="butt"/>
<line x1="148" y1="879.0" x2="167.5" y2="879.0" stroke="#000" stroke-width="4.5" stroke-linecap="butt"/>
<line x1="157.5" y1="932.1000000000001" x2="167.5" y2="932.1000000000001" stroke="#000" stroke-width="4.5" stroke-linecap="butt"/>
<line x1="148" y1="985.2" x2="167.5" y2="985.2" stroke="#000" stroke-width="4.5" stroke-linecap="butt"/>
<line x1="157.5" y1="1038.3000000000002" x2="167.5" y2="1038.3000000000002" stroke="#000" stroke-width="4.5" stroke-linecap="butt"/>
<line x1="148" y1="1091.4" x2="167.5" y2="1091.4" stroke="#000" stroke-width="4.5" stroke-linecap="butt"/>
<text transform="translate(133 679.2) scale(1 1.04)" font-size="40.5" text-anchor="end" font-weight="normal" fill="#000">40</text>
<text transform="translate(133 785.4) scale(1 1.04)" font-size="40.5" text-anchor="end" font-weight="normal" fill="#000">20</text>
<text transform="translate(133 891.6) scale(1 1.04)" font-size="40.5" text-anchor="end" font-weight="normal" fill="#000">0</text>
<text transform="translate(133 997.8) scale(1 1.04)" font-size="40.5" text-anchor="end" font-weight="normal" fill="#000">-20</text>
<text transform="translate(133 1104.0) scale(1 1.04)" font-size="40.5" text-anchor="end" font-weight="normal" fill="#000">-40</text>
<line x1="148" y1="1091.4" x2="1513.25" y2="1091.4" stroke="#000" stroke-width="4.5" stroke-linecap="butt"/>
<line x1="167.5" y1="1091.4" x2="167.5" y2="1099.9" stroke="#000" stroke-width="4.5" stroke-linecap="butt"/>
<line x1="242.13888888888889" y1="1091.4" x2="242.13888888888889" y2="1099.9" stroke="#000" stroke-width="4.5" stroke-linecap="butt"/>
<line x1="316.77777777777777" y1="1091.4" x2="316.77777777777777" y2="1099.9" stroke="#000" stroke-width="4.5" stroke-linecap="butt"/>
<line x1="391.41666666666663" y1="1091.4" x2="391.41666666666663" y2="1108.4" stroke="#000" stroke-width="4.5" stroke-linecap="butt"/>
<line x1="466.05555555555554" y1="1091.4" x2="466.05555555555554" y2="1099.9" stroke="#000" stroke-width="4.5" stroke-linecap="butt"/>
<line x1="540.6944444444445" y1="1091.4" x2="540.6944444444445" y2="1099.9" stroke="#000" stroke-width="4.5" stroke-linecap="butt"/>
<line x1="615.3333333333333" y1="1091.4" x2="615.3333333333333" y2="1108.4" stroke="#000" stroke-width="4.5" stroke-linecap="butt"/>
<line x1="689.9722222222222" y1="1091.4" x2="689.9722222222222" y2="1099.9" stroke="#000" stroke-width="4.5" stroke-linecap="butt"/>
<line x1="764.6111111111111" y1="1091.4" x2="764.6111111111111" y2="1099.9" stroke="#000" stroke-width="4.5" stroke-linecap="butt"/>
<line x1="839.25" y1="1091.4" x2="839.25" y2="1108.4" stroke="#000" stroke-width="4.5" stroke-linecap="butt"/>
<line x1="913.8888888888889" y1="1091.4" x2="913.8888888888889" y2="1099.9" stroke="#000" stroke-width="4.5" stroke-linecap="butt"/>
<line x1="988.5277777777777" y1="1091.4" x2="988.5277777777777" y2="1099.9" stroke="#000" stroke-width="4.5" stroke-linecap="butt"/>
<line x1="1063.1666666666665" y1="1091.4" x2="1063.1666666666665" y2="1108.4" stroke="#000" stroke-width="4.5" stroke-linecap="butt"/>
<line x1="1137.8055555555557" y1="1091.4" x2="1137.8055555555557" y2="1099.9" stroke="#000" stroke-width="4.5" stroke-linecap="butt"/>
<line x1="1212.4444444444443" y1="1091.4" x2="1212.4444444444443" y2="1099.9" stroke="#000" stroke-width="4.5" stroke-linecap="butt"/>
<line x1="1287.0833333333333" y1="1091.4" x2="1287.0833333333333" y2="1108.4" stroke="#000" stroke-width="4.5" stroke-linecap="butt"/>
<line x1="1361.7222222222222" y1="1091.4" x2="1361.7222222222222" y2="1099.9" stroke="#000" stroke-width="4.5" stroke-linecap="butt"/>
<line x1="1436.361111111111" y1="1091.4" x2="1436.361111111111" y2="1099.9" stroke="#000" stroke-width="4.5" stroke-linecap="butt"/>
<line x1="1511.0" y1="1091.4" x2="1511.0" y2="1108.4" stroke="#000" stroke-width="4.5" stroke-linecap="butt"/>
<text transform="translate(165.5 1154.6) scale(1 1.04)" font-size="40.5" text-anchor="middle" font-weight="normal" fill="#000">-30</text>
<text transform="translate(386.4 1154.6) scale(1 1.04)" font-size="40.5" text-anchor="middle" font-weight="normal" fill="#000">-15</text>
<text transform="translate(615.3 1154.6) scale(1 1.04)" font-size="40.5" text-anchor="middle" font-weight="normal" fill="#000">0</text>
<text transform="translate(839.2 1154.6) scale(1 1.04)" font-size="40.5" text-anchor="middle" font-weight="normal" fill="#000">15</text>
<text transform="translate(1063.2 1154.6) scale(1 1.04)" font-size="40.5" text-anchor="middle" font-weight="normal" fill="#000">30</text>
<text transform="translate(1287.1 1154.6) scale(1 1.04)" font-size="40.5" text-anchor="middle" font-weight="normal" fill="#000">45</text>
<text transform="translate(1511.0 1154.6) scale(1 1.04)" font-size="40.5" text-anchor="middle" font-weight="normal" fill="#000">60</text>
<text transform="translate(833.7 1203.0) scale(1 1.04)" font-size="47.5" text-anchor="middle" font-weight="normal" fill="#000">Time (min)</text>
<line x1="167.5" y1="879.0" x2="1504" y2="879.0" stroke="#000" stroke-width="4" stroke-linecap="round"/>
<text transform="translate(47.7 1116) rotate(-90) scale(1 1.04)" font-size="47.5" text-anchor="start" font-weight="normal" fill="#000">Distance to door (cm)</text>
<text transform="translate(10.5 646.5)" font-size="59.5" text-anchor="start" font-weight="bold" fill="#000">B</text>
<text transform="translate(242 656) scale(1 1.04)" font-size="47.5" text-anchor="start" font-weight="normal" fill="#000">US</text>
<text transform="translate(683.5 692.5) scale(1 1.04)" font-size="47.5" text-anchor="start" font-weight="normal" fill="#000">door open</text>
<line x1="1519" y1="697.9" x2="1626" y2="697.9" stroke="#000" stroke-width="3.2" stroke-linecap="butt"/>
<line x1="1519" y1="1057.0" x2="1626" y2="1057.0" stroke="#000" stroke-width="3.2" stroke-linecap="butt"/>
<line x1="1624.6" y1="697.9" x2="1624.6" y2="1057.0" stroke="#000" stroke-width="1.4" stroke-linecap="butt"/>
<text transform="translate(1533.5 796.2) scale(1 1.04)" font-size="47.5" text-anchor="start" font-weight="normal" fill="#000">HC</text>
<text transform="translate(1519.5 890.3) scale(1 1.04)" font-size="47.5" text-anchor="start" font-weight="normal" fill="#000">door</text>
<text transform="translate(1534.5 992.6) scale(1 1.04)" font-size="47.5" text-anchor="start" font-weight="normal" fill="#000">TC</text>
<polyline points="168.8,870.8 171.3,868.9 173.9,867.1 176.4,864.8 177.5,865.0 178.1,768.0 178.7,877.3 179.0,871.3 179.5,870.7 180.3,785.3 180.8,785.2 181.3,869.9 182.1,792.7 182.9,868.4 183.9,786.9 184.0,715.6 184.8,784.3 185.1,756.2 185.7,803.1 186.2,724.3 186.6,788.6 187.1,787.8 187.5,719.6 188.0,775.4 188.5,729.7 189.0,766.1 189.5,766.7 190.3,723.4 191.2,792.5 192.2,750.3 192.7,750.1 192.8,861.1 194.3,771.7 195.8,861.5 196.6,776.9 197.1,776.1 198.0,750.8 199.6,876.6 200.3,761.9 201.7,877.2 202.7,783.8 203.0,868.2 204.5,766.3 205.9,876.8 207.4,762.1 208.7,875.6 209.7,744.9 211.4,877.1 211.9,877.2 212.5,834.9 213.7,867.0 214.2,866.7 215.8,759.9 216.3,760.7 217.1,875.5 218.3,762.4 218.8,762.8 220.0,874.1 221.2,785.1 222.9,865.4 224.1,781.3 225.6,872.8 225.6,787.9 226.7,873.2 228.0,792.8 228.9,876.9 229.4,876.4 231.2,785.4 232.0,874.7 233.2,776.4 234.2,875.0 235.7,790.8 236.2,791.4 236.6,787.7 237.1,788.2 237.8,861.2 238.4,817.5 239.0,866.2 240.1,748.0 240.6,875.4 241.4,757.2 242.4,864.0 243.3,754.2 243.8,754.9 244.3,872.3 245.0,778.4 245.7,868.4 246.6,747.8 247.0,768.7 247.4,790.0 247.8,815.1 248.6,717.9 249.1,717.7 249.4,812.7 250.0,749.7 250.5,814.4 251.3,749.1 252.0,856.2 252.6,759.7 253.5,833.8 254.3,733.7 254.9,858.5 255.2,772.7 256.0,856.0 256.8,719.3 257.2,839.6 257.8,743.6 258.3,743.6 258.7,859.3 259.3,787.1 259.9,816.6 260.4,816.3 260.0,750.1 260.7,864.4 261.6,834.9 262.4,874.5 262.9,874.9 263.7,749.7 264.6,872.5 265.1,873.2 265.4,823.8 266.2,867.5 266.8,746.2 267.5,862.7 267.9,744.6 268.4,745.3 268.8,859.0 269.3,858.2 270.0,832.5 270.5,833.1 271.2,853.3 271.8,759.9 272.3,760.5 272.8,861.9 273.4,784.2 273.7,870.7 274.0,873.7 274.8,768.6 275.3,767.8 276.0,862.9 276.7,753.4 277.4,863.5 278.2,757.2 278.7,861.4 279.6,788.5 280.0,867.4 280.5,867.4 281.5,746.9 281.9,877.2 282.5,775.7 283.1,762.4 283.6,763.0 284.4,782.0 285.4,770.2 286.0,754.9 286.9,757.9 287.7,782.0 288.4,778.4 289.3,753.8 290.0,766.4 290.5,756.6 291.5,768.3 292.3,762.4 293.2,757.2 293.8,780.6 294.3,754.9 295.3,765.6 295.9,751.7 296.8,763.9 297.9,752.4 299.0,751.0 299.6,751.0 300.3,751.0 301.3,759.7 302.2,754.8 303.3,753.7 304.1,761.8 304.8,752.1 305.5,763.0 306.2,766.6 306.9,776.2 307.6,774.8 308.6,771.7 309.7,754.1 310.3,772.6 310.9,777.1 312.0,751.8 312.7,771.2 313.2,757.6 313.9,753.3 314.9,777.0 316.1,767.2 317.2,776.0 318.1,781.8 319.1,764.7 319.7,832.0 320.2,831.8 320.8,753.2 321.3,752.5 321.8,851.1 322.9,758.4 323.6,855.0 324.6,800.7 325.6,852.3 326.7,749.6 327.8,840.1 328.7,783.0 329.6,815.6 330.1,815.6 330.7,822.7 331.8,823.1 332.9,822.1 334.0,821.9 334.0,824.5 335.2,825.1 336.5,824.8 337.8,825.7 339.0,830.5 339.0,829.3 340.3,829.1 341.7,834.3 343.0,834.3 343.0,835.0 344.5,846.2 346.0,855.0 346.0,856.1 348.0,848.7 348.0,850.4 349.5,839.7 351.0,831.2 351.0,828.5 352.5,823.8 354.0,819.5 354.0,818.0 355.5,818.1 357.0,818.9 357.0,847.5 357.5,847.0 358.3,808.3 358.8,857.5 359.3,858.3 359.7,756.8 360.2,876.8 361.1,747.8 361.6,747.7 362.2,825.4 362.7,826.1 363.3,750.2 363.7,857.1 364.2,856.6 364.7,758.5 365.2,759.2 365.9,833.2 366.3,746.0 366.8,746.3 367.2,825.5 367.5,746.9 368.1,868.9 369.2,749.6 370.0,802.7 370.4,775.9 371.4,823.0 372.2,757.0 373.1,826.8 373.5,754.5 374.2,793.3 374.7,752.8 375.2,752.8 375.7,818.6 376.2,818.7 376.6,740.9 377.2,790.2 377.6,762.0 378.1,828.8 379.0,771.5 379.5,771.2 380.3,873.7 381.0,778.8 381.8,848.5 382.3,847.9 382.9,804.4 383.4,803.9 383.9,806.2 384.5,778.5 384.9,859.0 385.5,812.6 385.8,831.7 386.6,772.2 387.3,825.5 387.8,825.8 388.1,844.2 388.8,775.0 389.3,774.3 389.6,876.5 390.0,877.3 390.6,726.0 391.2,740.0 392.0,728.1 393.0,734.4 394.0,742.1 394.0,733.7 394.6,760.6 395.2,733.7 395.9,760.1 396.4,733.6 397.0,761.4 397.7,734.6 398.2,760.6 398.8,734.1 399.5,760.8 400.1,734.2 400.7,760.4 401.5,733.8 402.0,724.4 402.4,747.8 403.1,724.2 403.8,747.8 404.3,725.2 404.6,747.1 405.5,725.5 406.0,746.2 406.7,725.6 407.2,747.2 407.9,725.5 408.6,747.7 409.1,724.6 409.6,747.8 410.3,724.3 410.9,748.0 411.6,725.3 412.0,746.1 412.8,725.5 413.5,746.6 413.9,724.5 414.4,748.0 415.1,725.2 415.6,746.5 416.1,724.6 416.5,747.5 417.2,725.0 418.0,746.3 418.6,724.7 419.5,747.8 420.0,731.8 420.8,755.3 421.7,731.5 422.5,755.5 423.3,731.3 424.2,755.0 425.1,731.4 425.7,754.8 426.2,731.2 426.8,754.0 427.4,731.6 428.0,742.0 428.7,744.9 429.4,747.0 430.2,748.2 430.8,743.7 431.7,742.0 432.4,747.6 433.5,745.3 433.5,757.6 434.6,759.2 435.8,761.7 436.9,762.3 438.0,762.3 438.0,762.9 439.0,764.9 440.0,767.5 441.0,771.4 441.0,771.5 442.0,768.8 443.0,764.8 444.0,761.9 445.0,759.8 445.0,759.2 446.0,759.5 447.0,761.0 448.0,762.6 449.0,760.2 450.0,739.0 450.6,765.0 452.0,766.1 453.0,769.5 454.0,773.1 455.0,773.8 456.0,774.5 456.0,776.9 457.0,772.0 458.0,768.8 459.0,765.1 460.0,758.2 460.0,758.8 461.0,761.7 462.0,760.6 463.0,763.1 464.0,760.3 464.0,763.8 465.0,761.5 466.0,759.6 467.0,760.3 468.0,758.1 468.5,744.7 469.1,768.0 470.0,759.9 471.0,759.3 472.0,761.4 473.0,759.7 474.0,760.4 475.0,760.0 476.0,760.0 477.0,761.1 478.0,760.6 478.0,761.9 479.0,761.8 480.0,761.1 481.0,762.6 482.0,762.4 483.0,762.4 484.0,763.6 485.0,763.2 486.0,762.7 486.0,765.3 487.0,769.1 488.0,770.5 489.0,775.5 489.0,775.3 490.0,766.7 491.0,760.1 491.0,759.3 492.0,761.3 493.0,763.9 494.0,764.6 495.0,767.2 495.0,769.5 496.0,769.8 497.0,769.5 498.0,772.5 499.0,771.5 500.0,774.1 500.0,772.8 501.0,773.7 502.0,770.6 503.0,770.9 504.0,766.5 504.0,767.6 505.0,763.0 506.0,760.5 507.0,756.5 507.0,753.5 508.0,757.0 509.0,758.4 510.0,760.3 510.0,760.5 511.0,757.8 512.0,756.2 513.0,754.2 514.0,753.6 514.0,752.6 515.2,752.0 516.3,749.3 517.5,748.3 517.5,801.2 518.0,800.2 518.6,875.3 519.2,766.5 519.6,866.2 520.1,765.3 520.5,865.9 521.6,788.5 522.5,868.3 523.6,770.0 524.4,875.1 525.1,766.7 526.0,836.3 526.9,800.3 527.5,825.2 528.4,789.0 529.0,845.4 529.5,845.0 530.7,802.0 531.8,822.1 532.7,780.1 533.4,827.1 533.9,827.8 534.4,783.3 535.0,750.9 535.7,835.2 536.1,713.5 536.7,829.1 537.1,720.2 537.9,827.4 538.6,741.5 539.4,837.3 540.3,730.4 540.7,840.3 541.4,745.9 541.9,838.2 542.3,717.0 542.7,828.3 543.2,828.9 544.0,745.1 544.8,795.6 545.6,726.5 546.1,817.1 546.8,717.8 547.3,717.3 547.7,833.0 548.0,826.6 548.5,827.1 549.4,757.2 549.9,756.8 550.8,842.6 551.4,749.0 552.4,828.6 552.8,755.5 553.3,756.1 554.1,811.8 554.6,812.1 555.2,735.5 556.2,814.9 556.8,730.9 557.0,801.0 557.5,801.2 557.9,877.1 558.4,794.1 558.8,876.4 559.2,754.2 559.5,867.3 559.9,768.4 560.6,869.6 561.1,869.9 561.4,808.8 561.8,870.7 562.3,870.1 562.8,872.4 563.3,872.9 564.0,874.2 564.8,789.7 565.5,867.5 566.2,775.6 566.7,774.9 567.4,873.6 567.9,761.3 568.5,877.1 569.0,793.1 569.7,872.5 570.2,873.2 570.8,764.3 571.2,874.2 571.7,874.8 572.4,819.7 573.2,870.9 573.7,870.5 574.2,760.2 574.7,761.1 575.0,874.7 575.5,847.6 576.1,874.2 576.5,877.3 577.2,874.9 577.5,779.7 578.2,874.5 578.7,809.2 579.3,875.8 579.8,875.9 580.1,774.5 580.6,775.0 581.1,876.9 581.6,876.7 582.4,776.1 583.1,873.4 583.6,783.0 584.1,873.0 584.6,873.0 585.3,760.4 585.8,761.0 586.5,868.0 587.0,867.4 587.4,769.5 588.1,874.7 588.6,786.6 589.0,764.6 589.5,764.2 590.0,773.2 590.5,772.9 591.2,725.2 592.2,796.9 593.2,753.3 594.1,778.6 594.8,736.8 595.6,811.1 596.0,788.3 596.7,738.8 597.2,737.9 597.8,818.2 598.6,763.5 599.5,801.4 600.5,731.6 601.2,821.1 602.3,761.3 603.2,819.4 603.7,730.7 604.7,819.9 605.8,748.8 606.6,800.7 607.1,750.3 607.6,750.5 608.1,800.7 608.5,741.3 609.7,795.8 610.8,758.6 611.9,809.7 612.3,745.1 613.5,783.8 614.0,772.0 614.9,862.1 615.7,788.3 616.2,876.4 616.5,797.8 617.1,874.0 617.8,791.2 618.5,872.2 619.0,871.2 619.8,827.4 620.3,828.2 620.8,874.3 621.4,753.0 621.9,752.5 624.7,732.0 625.3,877.3 626.0,878.0 628.0,900.0 629.0,791.0 629.5,878.0 632.0,1000.0 634.0,900.0 636.0,1026.0 638.0,890.0 640.0,1026.0 640.3,726.4 640.5,873.8 641.4,756.8 641.8,876.0 642.3,740.3 642.8,740.0 643.2,869.5 644.0,762.6 644.5,761.6 645.0,862.0 645.4,804.3 645.9,871.5 646.4,776.4 647.1,874.9 647.5,767.1 648.4,875.1 648.7,769.9 649.2,769.7 649.6,864.0 650.1,877.3 650.9,875.6 651.5,729.9 652.0,730.6 652.6,875.7 653.3,751.5 653.8,751.1 654.6,873.5 655.4,735.2 656.2,871.9 656.8,789.5 657.3,789.6 658.2,876.1 658.7,761.3 659.5,873.7 660.0,873.8 660.5,746.2 661.0,875.1 661.4,789.0 661.7,876.6 662.4,728.3 662.7,873.7 663.2,809.5 663.7,808.9 664.0,864.3 664.3,810.8 664.7,874.8 665.6,742.6 666.0,874.2 666.8,748.3 667.4,875.3 667.8,753.7 668.2,875.2 668.7,875.9 669.2,785.2 669.5,873.4 670.4,743.4 671.1,872.7 671.8,761.7 672.4,874.3 673.1,757.9 673.8,876.9 674.3,876.7 674.7,813.0 675.3,874.8 675.8,874.6 676.7,768.9 677.2,873.6 678.0,787.2 678.5,875.4 679.3,836.4 679.7,864.9 680.1,791.7 680.6,790.9 681.2,873.2 681.6,804.7 682.1,804.5 682.9,875.9 683.6,732.5 684.1,732.2 684.4,876.8 685.1,767.5 685.9,870.3 686.4,869.9 686.9,760.5 687.7,865.8 688.3,739.2 688.8,876.2 689.4,770.4 689.9,770.4 690.4,869.9 690.8,740.9 691.3,873.8 691.9,750.0 692.8,873.9 693.3,873.4 694.0,792.6 694.6,873.2 695.2,838.4 696.0,866.7 696.8,796.4 697.6,872.5 698.1,877.3 698.6,872.6 698.9,740.3 699.4,740.5 700.2,866.6 700.8,783.6 701.0,874.3 701.5,874.2 703.4,726.8 704.8,862.5 705.6,772.1 706.9,859.6 707.7,730.0 709.0,876.2 709.5,876.9 711.5,742.6 712.7,876.2 714.5,748.6 715.6,875.2 717.7,744.8 719.4,870.3 720.8,715.4 721.3,716.1 723.6,877.1 725.4,756.5 727.5,874.2 728.7,764.7 730.8,874.9 732.7,733.0 733.2,732.1 735.0,874.9 735.8,769.8 737.0,868.9 738.7,744.7 740.0,774.4 741.3,870.3 741.8,870.0 743.7,741.3 745.1,871.5 745.6,871.5 746.7,779.4 748.8,876.1 750.4,766.2 750.9,766.6 752.1,863.9 752.6,864.3 754.2,751.0 754.7,750.9 756.5,872.9 757.8,729.2 759.3,873.3 759.8,873.7 761.1,762.1 763.1,872.6 763.6,873.3 765.9,734.4 767.7,873.1 769.8,731.2 771.6,875.4 772.1,875.1 773.5,767.6 774.5,871.3 776.4,780.2 778.0,876.9 778.5,877.8 780.0,763.2 781.0,766.2 782.0,768.4 783.0,772.0 784.0,772.7 784.0,775.9 785.0,780.6 786.0,784.9 787.0,795.2 787.0,793.1 788.0,795.6 789.0,801.7 790.0,807.1 791.0,813.0 791.0,810.5 792.0,809.9 793.0,808.6 794.0,806.0 795.0,801.8 796.0,801.1 796.0,798.2 797.0,796.2 798.0,794.6 799.0,793.9 800.0,795.6 801.0,791.6 802.0,793.0 802.0,792.2 803.1,788.1 804.2,784.5 805.2,778.5 806.3,774.3 807.4,770.6 807.4,769.8 808.5,784.1 809.5,800.9 809.5,797.9 810.7,878.7 811.5,723.1 812.3,750.7 813.1,724.3 813.7,751.0 814.3,723.2 815.0,751.7 815.5,723.7 816.2,751.2 816.7,724.2 817.2,751.6 817.9,723.9 818.6,751.9 819.5,723.4 820.1,751.7 820.6,724.6 821.2,750.0 821.6,724.7 822.4,751.4 823.2,723.6 823.9,751.3 823.0,730.0 823.6,877.3 824.0,865.6 824.5,777.7 825.1,869.2 825.8,812.3 826.5,860.4 826.8,791.3 827.4,862.1 828.3,775.0 828.7,868.4 829.2,868.1 829.7,759.5 830.6,867.7 831.1,867.1 831.7,824.2 832.2,824.2 832.9,860.3 833.8,770.4 834.1,869.8 834.6,869.6 835.3,815.0 835.8,815.9 836.5,855.3 837.0,855.7 837.4,798.2 837.9,798.5 838.5,866.3 839.1,765.5 839.9,870.5 844.4,790.0 845.0,728.0 845.6,770.0 846.0,764.3 846.5,785.6 847.0,786.3 848.1,762.6 849.1,787.5 849.6,788.1 850.6,767.2 851.7,782.8 852.8,760.6 853.3,761.6 853.0,802.7 853.5,788.5 854.0,814.9 854.8,790.7 855.3,810.4 855.9,756.8 856.0,764.6 856.5,784.4 857.0,784.9 857.5,771.7 858.0,780.6 858.8,762.4 859.3,787.6 860.8,790.0 861.4,727.0 862.0,780.0 862.0,782.9 862.5,783.9 862.8,861.7 863.7,786.7 864.2,787.6 865.0,861.3 865.8,789.5 866.2,848.5 866.7,848.5 867.2,804.7 868.1,865.9 868.6,866.0 869.4,784.8 870.2,852.6 870.7,851.6 873.0,766.8 874.2,772.5 875.3,772.7 876.6,767.2 877.9,788.5 878.3,788.0 878.9,740.0 879.5,795.0 880.0,762.4 880.9,787.9 881.3,762.0 882.1,787.1 882.6,763.8 883.3,788.0 883.8,763.3 884.7,786.8 885.1,763.3 885.7,788.3 886.5,762.3 887.0,786.6 887.4,763.0 888.1,788.1 889.0,762.1 889.5,787.9 890.2,763.1 891.1,787.3 891.7,764.0 892.2,787.6 892.8,764.0 893.0,760.0 894.8,767.0 896.3,772.6 897.2,771.6 898.0,780.0 899.2,776.4 900.8,771.6 902.6,774.7 903.5,772.9 904.7,769.2 906.0,762.0 906.9,764.2 908.6,769.6 909.4,774.4 910.4,765.3 912.2,765.0 913.8,765.2 915.1,772.8 916.2,765.1 917.2,775.5 919.0,778.5 920.5,766.4 923.0,775.0 923.6,872.7 924.2,778.0 924.0,780.6 924.7,794.0 925.2,795.0 926.1,771.6 926.9,796.8 927.4,781.4 928.6,780.0 929.2,872.7 929.7,872.0 930.3,740.0 930.9,780.0 932.0,785.9 933.4,782.4 934.2,785.4 935.1,785.4 936.3,777.7 937.6,777.5 938.4,780.8 939.3,788.0 940.5,788.5 941.9,782.5 943.4,788.5 944.5,788.5 945.9,784.5 946.0,771.3 947.0,764.4 948.0,756.2 948.0,755.6 949.0,756.1 950.0,755.0 951.0,754.1 952.0,754.4 952.0,754.7 953.0,754.7 954.0,754.7 955.0,755.7 956.0,754.6 957.0,753.9 957.0,754.0 958.0,762.9 958.0,762.4 959.0,757.8 960.0,753.6 960.0,754.7 961.0,755.1 962.0,754.7 963.0,754.7 964.0,755.4 965.0,755.6 965.0,757.7 966.0,758.6 967.0,758.4 968.0,757.4 969.0,759.0 970.0,759.2 971.0,784.2 972.3,784.2 973.6,779.8 974.7,769.7 975.6,764.2 976.2,783.6 977.0,761.6 977.6,788.0 978.0,762.9 978.6,788.1 979.3,762.8 979.9,787.3 980.6,762.8 981.2,787.4 981.7,761.3 982.5,788.0 983.1,761.4 983.5,788.0 984.1,761.5 984.9,787.9 985.7,762.3 986.5,787.6 986.8,761.3 987.2,788.2 987.6,761.5 988.2,787.2 988.7,761.8 989.4,788.3 990.1,761.2 990.5,786.9 991.1,762.2 991.6,788.2 992.2,761.6 993.0,786.9 993.8,761.4 994.4,787.7 994.8,762.0 995.4,787.9 995.9,761.1 996.4,787.5 997.2,762.4 997.7,788.0 998.1,762.8 998.5,786.7 999.2,761.6 999.8,788.3 1000.5,761.2 1001.4,787.7 1002.0,786.7 1003.0,787.1 1004.0,787.5 1005.0,787.7 1006.0,787.8 1006.0,763.1 1006.7,787.9 1007.5,763.2 1008.3,788.2 1008.9,763.0 1009.4,787.4 1010.0,762.7 1010.5,787.5 1011.1,762.5 1011.5,787.6 1012.1,762.3 1012.9,788.2 1013.3,762.1 1014.1,788.1 1014.5,763.4 1015.0,787.8 1015.6,762.6 1016.4,787.7 1017.0,763.3 1017.7,787.0 1018.2,762.3 1018.7,786.8 1019.3,762.9 1020.1,786.8 1020.9,763.4 1021.6,787.7 1022.1,763.7 1022.8,786.6 1023.2,763.8 1023.7,787.0 1024.3,763.7 1024.9,787.9 1025.7,762.4 1026.0,762.1 1028.0,761.7 1030.0,761.4 1030.0,760.6 1030.5,788.4 1030.5,788.3 1032.6,788.3 1034.8,788.5 1036.9,788.1 1039.0,788.3 1039.0,788.0 1039.5,766.4" fill="none" stroke="#000" stroke-width="3" stroke-linejoin="round" stroke-miterlimit="3"/>
<polyline points="1039.0,766.2 1040.6,766.1 1042.2,765.9 1043.8,765.9 1045.4,765.3 1047.0,765.3 1048.6,763.8 1050.2,764.2 1051.8,764.6 1053.4,764.0 1055.0,764.1 1055.0,763.0 1056.6,763.6 1058.1,763.3 1059.7,763.8 1061.2,764.0 1062.8,763.3 1064.4,763.7 1065.9,763.8 1067.5,764.8 1069.1,764.7 1070.6,764.0 1072.2,764.9 1073.8,764.1 1075.3,764.9 1076.9,764.3 1078.4,764.2 1080.0,765.5 1080.0,764.6 1081.5,764.6 1083.1,765.8 1084.6,765.6 1086.2,764.9 1087.7,765.8 1089.2,765.3 1090.8,765.5 1092.3,764.9 1093.8,766.0 1095.4,765.7 1096.9,766.1 1098.5,766.0 1100.0,765.2 1101.5,765.3 1103.1,765.1 1104.6,765.1 1106.2,765.0 1107.7,765.4 1109.2,765.9 1110.8,765.1 1112.3,766.1 1113.8,765.6 1115.4,765.6 1116.9,766.4 1118.5,765.9 1120.0,765.7 1120.0,766.0 1121.5,766.3 1123.1,765.4 1124.6,766.7 1126.2,765.3 1127.7,766.3 1129.2,766.5 1130.8,765.3 1132.3,766.4 1133.8,765.8 1135.4,766.1 1136.9,765.3 1138.5,765.4 1140.0,765.6 1141.5,766.6 1143.1,765.6 1144.6,766.4 1146.2,766.6 1147.7,766.6 1149.2,765.8 1150.8,765.8 1152.3,766.0 1153.8,766.4 1155.4,765.5 1156.9,766.3 1158.5,766.4 1160.0,766.5 1160.0,765.4 1161.5,766.6 1163.1,765.4 1164.6,765.7 1166.2,766.0 1167.7,766.4 1169.2,765.5 1170.8,766.3 1172.3,765.8 1173.8,765.4 1175.4,765.4 1176.9,765.1 1178.5,764.9 1180.0,765.0 1180.0,765.8 1181.5,766.2 1183.0,765.0 1184.5,764.9 1186.0,766.2 1187.5,765.5 1189.0,765.4" fill="none" stroke="#000" stroke-width="5" stroke-linejoin="round" stroke-miterlimit="3"/>
<polyline points="1189.0,765.5 1189.5,789.4 1189.5,789.9 1192.2,789.1 1195.0,789.0 1196.0,820.4 1196.5,820.3 1197.0,816.5 1197.9,767.6 1198.7,821.7 1199.2,776.5 1199.9,846.6 1200.4,846.9 1200.9,769.2 1201.7,857.9 1204.0,789.5 1204.7,748.6 1205.1,798.3 1205.6,797.6 1206.2,738.8 1206.7,738.6 1207.3,804.9 1208.0,753.2 1208.9,799.9 1209.5,740.0 1210.1,866.0 1210.5,778.5 1211.5,755.6 1211.9,735.5 1212.4,736.4 1213.3,778.3 1213.8,752.6 1214.3,752.8 1215.2,777.4 1215.7,776.8 1217.0,788.4 1218.0,791.8 1219.0,797.5 1220.0,804.0 1220.0,801.8 1221.0,800.7 1222.0,800.0 1223.0,798.2 1224.0,801.7 1224.0,802.2 1225.0,794.2 1226.0,792.8 1227.0,790.3 1228.0,782.5 1228.0,783.0 1229.1,787.8 1230.2,788.6 1231.4,789.2 1232.5,791.8 1232.5,857.2 1233.4,776.8 1233.9,858.5 1234.5,787.7 1235.2,842.6 1236.0,786.3 1236.7,857.6 1237.8,802.7 1238.5,812.5 1239.0,812.0 1240.0,792.2 1240.5,834.0 1241.0,834.2 1241.4,840.5 1242.0,846.3 1242.5,845.9 1242.4,860.0 1243.0,728.3 1243.6,790.0 1244.0,769.6 1244.4,805.3 1245.5,780.3 1246.0,829.0 1246.5,829.3 1247.0,771.8 1247.9,813.7 1248.8,769.3 1249.8,829.1 1250.7,763.7 1251.8,820.2 1252.0,760.4 1253.0,756.6 1254.0,751.5 1254.0,751.1 1255.0,752.2 1256.0,751.5 1257.0,751.2 1258.0,750.6 1258.0,749.7 1259.0,750.1 1260.0,749.2 1261.0,750.2 1262.0,748.1 1262.0,749.5 1263.0,790.3 1263.0,791.7 1264.0,780.5 1265.0,768.0 1265.0,767.6 1266.0,767.4 1267.0,768.4 1268.0,767.2 1269.0,766.3 1270.0,764.3 1270.0,764.3 1271.0,761.9 1272.0,759.1 1273.0,756.3 1273.0,754.9 1274.0,758.2 1275.0,758.1 1276.0,760.5 1277.0,760.0 1277.6,875.0 1279.5,875.0 1280.7,760.0 1281.0,732.5 1281.5,732.5 1282.5,744.3 1283.4,726.7 1283.9,750.3 1284.8,735.2 1285.3,734.8 1286.2,758.7 1287.0,737.7 1287.5,736.9 1288.4,757.1 1288.9,757.4 1289.4,760.7 1290.6,765.1 1291.7,767.5 1292.8,767.3 1294.0,768.6 1294.0,769.8 1295.0,769.3 1296.0,773.5 1297.0,770.6 1298.0,773.4 1299.0,772.8 1300.0,773.0 1300.0,777.0 1301.0,775.1 1302.0,774.6 1303.0,774.3 1304.0,773.7 1305.0,772.4 1305.0,772.7 1306.0,767.3 1307.0,762.4 1308.0,760.9 1308.0,760.9 1309.0,757.3 1310.0,753.3 1311.0,747.3 1312.0,780.6 1314.0,861.3 1314.0,864.5 1317.0,798.0 1317.0,799.1 1319.0,760.1 1319.0,770.2 1319.6,743.2 1320.4,771.0 1321.0,745.2 1321.5,744.7 1322.3,769.8 1322.8,770.0 1323.8,745.6 1324.3,745.5 1325.3,748.5 1325.8,749.4 1325.5,743.4 1326.6,743.3 1327.7,743.8 1328.8,743.3 1329.9,743.3 1331.0,743.4 1331.0,743.7 1332.1,744.0 1333.2,743.2 1334.3,744.3 1335.4,744.2 1336.5,745.8 1336.0,762.1 1336.5,761.8 1337.0,872.7 1337.7,758.1 1338.2,852.1 1338.9,751.5 1339.4,862.1 1340.4,750.6 1340.9,847.5 1341.7,791.6 1342.2,791.4 1343.2,864.8 1343.8,802.2 1344.8,776.0 1345.0,785.5 1346.1,808.0 1346.9,791.3 1347.8,785.2 1348.4,767.5 1348.9,768.1 1349.3,823.2 1350.1,772.4 1350.4,790.8 1350.9,790.4 1351.6,821.2 1352.4,816.1 1353.0,772.6 1354.0,814.9 1354.6,764.9 1355.5,814.4 1356.4,760.8 1349.0,800.0 1349.6,877.3 1357.5,790.0 1358.1,742.5 1358.5,742.5 1359.1,877.3 1359.7,790.0 1362.0,786.0 1362.6,750.0 1363.2,787.0 1363.5,786.9 1364.6,787.5 1365.8,787.4 1366.9,787.3 1368.0,788.7 1368.0,788.2 1369.0,787.2 1370.0,786.3 1371.0,786.9 1372.0,785.0 1372.5,786.0 1373.1,760.0 1373.7,787.0 1374.0,787.6 1375.0,786.0 1376.0,787.5 1377.0,785.7 1378.0,785.5 1379.0,787.1 1380.0,786.5 1381.0,785.9 1381.0,759.5 1381.8,783.7 1382.6,760.6 1383.4,782.0 1384.3,760.8 1384.7,783.3 1385.2,759.8 1386.0,782.3 1386.7,759.6 1387.1,782.7 1387.7,759.8 1388.1,782.3 1388.5,759.4 1389.2,783.7 1389.8,760.8 1390.4,784.0 1391.1,760.4 1391.9,782.7 1392.8,760.5 1393.5,782.5 1394.4,760.8 1394.9,782.2 1395.6,760.5 1396.3,783.7 1397.0,759.0 1397.6,783.6 1398.1,760.1 1398.7,783.9 1399.5,760.9 1400.2,783.4 1400.8,759.7 1401.5,782.5 1402.2,759.5 1403.1,782.0 1403.7,759.9 1404.3,783.9 1405.1,760.4 1405.7,783.5 1406.4,759.1 1407.0,783.5 1407.5,760.6 1408.4,783.3 1409.1,759.3 1410.0,782.8 1410.8,760.9 1411.5,782.9 1412.3,760.2 1413.1,783.4 1413.7,759.8 1414.2,783.9 1414.8,759.1 1415.6,784.0 1416.3,759.2 1416.8,782.7 1417.5,760.7 1418.0,783.8 1416.0,780.0 1416.6,745.8 1417.2,770.0 1418.5,772.2 1419.6,769.7 1420.7,769.0 1421.8,768.3 1422.9,767.9 1424.0,766.2 1424.0,765.7 1425.0,763.8 1426.0,760.4 1426.0,760.5 1427.0,763.4 1428.0,764.6 1429.0,767.7 1429.0,767.3 1430.0,769.1 1431.0,767.6 1432.0,769.5 1433.0,768.9 1434.0,769.7 1435.0,770.6 1435.0,771.3 1436.0,772.3 1437.0,772.5 1438.0,772.0 1439.0,773.8 1440.0,772.4 1441.0,773.5 1442.0,776.3 1442.0,773.5 1443.0,773.8 1444.0,772.9 1445.0,774.0 1446.0,774.2 1447.0,774.8 1448.0,772.4 1449.0,773.5 1449.0,722.1 1449.8,752.8 1450.1,721.5 1450.6,741.5 1451.2,723.8 1451.7,724.5 1452.0,754.1 1452.5,734.0 1453.1,757.5 1453.6,726.4 1454.2,759.8 1454.6,724.4 1455.4,749.1 1456.0,721.0 1456.0,859.2 1456.7,760.6 1457.6,866.3 1458.1,865.7 1458.8,791.9 1459.2,862.0 1459.7,862.5 1460.3,786.8 1460.8,872.5 1461.6,767.4 1462.5,870.4 1463.1,783.3 1463.6,783.9 1464.2,854.9 1464.7,854.0 1465.5,774.7 1466.4,858.9 1466.9,858.8 1467.7,760.9 1468.4,802.2 1469.0,749.7 1470.0,787.5 1470.5,788.2 1471.0,749.8 1471.9,786.4 1472.9,737.4 1473.4,737.6 1474.0,772.2 1474.5,773.2 1475.0,784.2 1475.5,777.6 1475.9,787.2 1476.4,786.3 1477.4,754.5 1477.9,754.6 1478.7,788.8 1479.2,787.9 1480.0,782.6 1480.6,778.1 1481.3,758.2 1481.9,790.0 1482.6,753.6 1483.6,785.7 1484.6,752.3 1485.5,782.4 1486.0,775.6 1487.0,774.7 1487.9,773.9 1488.5,776.7 1489.0,768.0 1489.7,784.1 1490.9,778.7 1491.5,777.2 1492.6,781.5 1493.2,772.4 1494.0,779.3 1494.9,780.5 1495.7,775.6 1496.6,772.1 1497.5,768.0 1498.7,782.3 1499.4,769.8 1500.0,761.4 1500.8,786.8 1501.5,760.6 1502.1,788.4 1502.6,760.1 1503.2,787.7 1503.9,760.3 1504.6,786.8 1505.0,761.6 1505.6,786.6 1506.0,761.8 1506.7,788.5 1507.3,761.9" fill="none" stroke="#000" stroke-width="3" stroke-linejoin="round" stroke-miterlimit="3"/>
<polygon fill="#000" points="617.7,878 617.7,892 622,900 624.8,920.5 629.3,932.6 629.3,997 630.3,1024 634.4,1028.4 641.4,1028.4 641.8,907 642.4,880 639.4,880 639.4,886 634,886 634,884 630,884 628,890 625.3,886 625.3,878"/>
<line x1="615.2" y1="679.3" x2="645.6" y2="679.3" stroke="#4d4d4d" stroke-width="3.6" stroke-linecap="butt"/>
<line x1="615.2" y1="669.3" x2="615.2" y2="689.3" stroke="#4d4d4d" stroke-width="3.8" stroke-linecap="butt"/>
<line x1="645.6" y1="669.3" x2="645.6" y2="689.3" stroke="#4d4d4d" stroke-width="3.8" stroke-linecap="butt"/>
<line x1="615.2" y1="709.9" x2="615.2" y2="1089.4" stroke="#4d4d4d" stroke-width="3.8" stroke-linecap="butt" stroke-dasharray="19.5 21.1"/>
<line x1="645.6" y1="709.9" x2="645.6" y2="1089.4" stroke="#4d4d4d" stroke-width="3.8" stroke-linecap="butt" stroke-dasharray="19.5 21.1"/>
</g>
<g id="panelC">
<rect x="275.3" y="1272.3" width="675.4" height="479.7" fill="#e3e3e3"/>
<polyline points="215.5,1674.1 229.7,1674.1 229.7,1659.5 243.9,1659.5 243.9,1644.5 258.1,1644.5 258.1,1647.2 272.3,1647.2 272.3,1531.5 286.5,1531.5 286.5,1473.6 300.7,1473.6 300.7,1402.0 315.0,1402.0 315.0,1395.0 329.2,1395.0 329.2,1296.6 343.4,1296.6 343.4,1347.3 357.6,1347.3 357.6,1371.7 371.8,1371.7 371.8,1412.4 386.0,1412.4 386.0,1456.9 400.2,1456.9 400.2,1492.3 414.4,1492.3 414.4,1455.3 428.6,1455.3 428.6,1525.2 442.8,1525.2 442.8,1558.8 457.0,1558.8 457.0,1596.0 471.2,1596.0 471.2,1587.0 485.4,1587.0 485.4,1578.4 499.6,1578.4 499.6,1563.9 513.9,1563.9 513.9,1528.2 528.1,1528.2 528.1,1561.5 542.3,1561.5 542.3,1560.8 556.5,1560.8 556.5,1602.8 570.7,1602.8 570.7,1583.1 584.9,1583.1 584.9,1570.3 599.1,1570.3 599.1,1588.4 613.3,1588.4 613.3,1550.7 627.5,1550.7 627.5,1621.3 641.7,1621.3 641.7,1605.1 655.9,1605.1 655.9,1632.9 670.1,1632.9 670.1,1618.5 684.3,1618.5 684.3,1616.7 698.6,1616.7 698.6,1592.3 712.8,1592.3 712.8,1606.2 727.0,1606.2 727.0,1661.8 741.2,1661.8 741.2,1667.2 755.4,1667.2 755.4,1568.0 769.6,1568.0 769.6,1642.8 783.8,1642.8 783.8,1638.7 798.0,1638.7 798.0,1620.1 812.2,1620.1 812.2,1625.5 826.4,1625.5 826.4,1538.6 840.6,1538.6 840.6,1567.6 854.8,1567.6 854.8,1558.8 869.0,1558.8 869.0,1550.7 883.3,1550.7 883.3,1556.4 897.5,1556.4 897.5,1634.7 911.7,1634.7 911.7,1623.6 925.9,1623.6 925.9,1645.2 940.1,1645.2 940.1,1669.5 954.3,1669.5 954.3,1656.5 968.5,1656.5 968.5,1678.1 982.7,1678.1 982.7,1677.4 996.9,1677.4 996.9,1683.8 1011.1,1683.8 1011.1,1681.1 1025.3,1681.1 1025.3,1671.1 1039.5,1671.1 1039.5,1702.4 1053.7,1702.4 1053.7,1683.8 1067.9,1683.8 1067.9,1664.2 1082.2,1664.2 1082.2,1660.7 1096.4,1660.7 1096.4,1667.6 1110.6,1667.6 1110.6,1654.9 1124.8,1654.9 1124.8,1695.4 1139.0,1695.4 1139.0,1668.8 1153.2,1668.8 1153.2,1678.1 1167.4,1678.1 1167.4,1659.5 1181.6,1659.5 1181.6,1678.1 1195.8,1678.1 1195.8,1634.7 1210.0,1634.7 1210.0,1659.5 1224.2,1659.5 1224.2,1639.4 1238.4,1639.4 1238.4,1674.9 1252.6,1674.9 1252.6,1660.3 1266.9,1660.3 1266.9,1627.1 1281.1,1627.1 1281.1,1644.4 1295.3,1644.4 1295.3,1694.2 1309.5,1694.2 1309.5,1684.1 1323.7,1684.1 1323.7,1675.7 1337.9,1675.7 1337.9,1696.9 1352.1,1696.9 1352.1,1653.6 1366.3,1653.6 1366.3,1674.3 1380.5,1674.3 1380.5,1669.6 1394.7,1669.6 1394.7,1688.1 1408.9,1688.1 1408.9,1689.4 1423.1,1689.4 1423.1,1682.8 1437.3,1682.8 1437.3,1690.8 1451.6,1690.8 1451.6,1666.9 1465.8,1666.9 1465.8,1676.7 1480.0,1676.7 1480.0,1672.2 1494.2,1672.2 1494.2,1678.8 1508.4,1678.8 1508.4,1661.6 1522.6,1661.6 1522.6,1656.8 1536.8,1656.8 1536.8,1655.5 1551.0,1655.5 1551.0,1668.2 1565.2,1668.2 1565.2,1690.8 1579.4,1690.8 1579.4,1684.0" fill="none" stroke="#969696" stroke-width="4.4" stroke-linejoin="miter" stroke-miterlimit="3"/>
<polyline points="215.5,1664.2 229.7,1664.2 229.7,1668.8 243.9,1668.8 243.9,1675.3 258.1,1675.3 258.1,1668.1 272.3,1668.1 272.3,1532.1 286.5,1532.1 286.5,1391.6 300.7,1391.6 300.7,1356.6 315.0,1356.6 315.0,1349.9 329.2,1349.9 329.2,1377.0 343.4,1377.0 343.4,1543.7 357.6,1543.7 357.6,1568.5 371.8,1568.5 371.8,1566.9 386.0,1566.9 386.0,1595.4 400.2,1595.4 400.2,1584.2 414.4,1584.2 414.4,1602.8 428.6,1602.8 428.6,1605.1 442.8,1605.1 442.8,1639.4 457.0,1639.4 457.0,1596.5 471.2,1596.5 471.2,1599.3 485.4,1599.3 485.4,1597.0 499.6,1597.0 499.6,1636.4 513.9,1636.4 513.9,1616.2 528.1,1616.2 528.1,1639.4 542.3,1639.4 542.3,1607.9 556.5,1607.9 556.5,1614.4 570.7,1614.4 570.7,1619.7 584.9,1619.7 584.9,1641.0 599.1,1641.0 599.1,1619.7 613.3,1619.7 613.3,1619.7 627.5,1619.7 627.5,1597.0 641.7,1597.0 641.7,1625.2 655.9,1625.2 655.9,1621.3 670.1,1621.3 670.1,1600.5 684.3,1600.5 684.3,1615.5 698.6,1615.5 698.6,1617.4 712.8,1617.4 712.8,1637.5 727.0,1637.5 727.0,1639.4 741.2,1639.4 741.2,1635.2 755.4,1635.2 755.4,1624.8 769.6,1624.8 769.6,1596.5 783.8,1596.5 783.8,1619.0 798.0,1619.0 798.0,1627.6 812.2,1627.6 812.2,1619.0 826.4,1619.0 826.4,1635.2 840.6,1635.2 840.6,1625.9 854.8,1625.9 854.8,1597.0 869.0,1597.0 869.0,1592.3 883.3,1592.3 883.3,1588.4 897.5,1588.4 897.5,1627.1 911.7,1627.1 911.7,1657.9 925.9,1657.9 925.9,1637.5 940.1,1637.5 940.1,1647.9 954.3,1647.9 954.3,1665.3 968.5,1665.3 968.5,1673.4 982.7,1673.4 982.7,1637.1 996.9,1637.1 996.9,1689.2 1011.1,1689.2 1011.1,1688.0 1025.3,1688.0 1025.3,1659.5 1039.5,1659.5 1039.5,1702.4 1053.7,1702.4 1053.7,1704.7 1067.9,1704.7 1067.9,1682.7 1082.2,1682.7 1082.2,1683.8 1096.4,1683.8 1096.4,1651.4 1110.6,1651.4 1110.6,1695.4 1124.8,1695.4 1124.8,1681.5 1139.0,1681.5 1139.0,1664.2 1153.2,1664.2 1153.2,1668.8 1167.4,1668.8 1167.4,1647.9 1181.6,1647.9 1181.6,1657.2 1195.8,1657.2 1195.8,1624.8 1210.0,1624.8 1210.0,1674.1 1224.2,1674.1 1224.2,1680.4 1238.4,1680.4 1238.4,1685.5 1252.6,1685.5 1252.6,1648.3 1266.9,1648.3 1266.9,1639.9 1281.1,1639.9 1281.1,1641.7 1295.3,1641.7 1295.3,1682.8 1309.5,1682.8 1309.5,1696.1 1323.7,1696.1 1323.7,1649.1 1337.9,1649.1 1337.9,1686.3 1352.1,1686.3 1352.1,1687.6 1366.3,1687.6 1366.3,1682.8 1380.5,1682.8 1380.5,1670.3 1394.7,1670.3 1394.7,1680.2 1408.9,1680.2 1408.9,1677.0 1423.1,1677.0 1423.1,1685.5 1437.3,1685.5 1437.3,1693.4 1451.6,1693.4 1451.6,1677.5 1465.8,1677.5 1465.8,1664.8 1480.0,1664.8 1480.0,1676.2 1494.2,1676.2 1494.2,1679.4 1508.4,1679.4 1508.4,1656.8 1522.6,1656.8 1522.6,1668.2 1536.8,1668.2 1536.8,1644.9 1551.0,1644.9 1551.0,1664.3 1565.2,1664.3 1565.2,1652.9 1579.4,1652.9 1579.4,1663.0" fill="none" stroke="#000" stroke-width="4.4" stroke-linejoin="miter" stroke-miterlimit="3"/>
<line x1="329.15999999999997" y1="1400.6" x2="329.15999999999997" y2="1752.0" stroke="#000" stroke-width="4.2" stroke-linecap="butt" stroke-dasharray="21.5 15.3"/>
<rect x="298.4" y="1703" width="89.7" height="37" fill="#a6a6a6"/>
<text transform="translate(343 1732.5)" font-size="33" text-anchor="middle" font-weight="normal" fill="#000">A, B</text>
<line x1="215.5" y1="1272.95" x2="215.5" y2="1772.0" stroke="#000" stroke-width="4.5" stroke-linecap="butt"/>
<line x1="196.3" y1="1275.2" x2="215.5" y2="1275.2" stroke="#000" stroke-width="4.5" stroke-linecap="butt"/>
<text transform="translate(183.5 1289.0) scale(1 1.04)" font-size="40.5" text-anchor="end" font-weight="normal" fill="#000">5000</text>
<line x1="196.3" y1="1370.56" x2="215.5" y2="1370.56" stroke="#000" stroke-width="4.5" stroke-linecap="butt"/>
<text transform="translate(183.5 1384.4) scale(1 1.04)" font-size="40.5" text-anchor="end" font-weight="normal" fill="#000">4000</text>
<line x1="196.3" y1="1465.92" x2="215.5" y2="1465.92" stroke="#000" stroke-width="4.5" stroke-linecap="butt"/>
<text transform="translate(183.5 1479.7) scale(1 1.04)" font-size="40.5" text-anchor="end" font-weight="normal" fill="#000">3000</text>
<line x1="196.3" y1="1561.28" x2="215.5" y2="1561.28" stroke="#000" stroke-width="4.5" stroke-linecap="butt"/>
<text transform="translate(183.5 1575.1) scale(1 1.04)" font-size="40.5" text-anchor="end" font-weight="normal" fill="#000">2000</text>
<line x1="196.3" y1="1656.6399999999999" x2="215.5" y2="1656.6399999999999" stroke="#000" stroke-width="4.5" stroke-linecap="butt"/>
<text transform="translate(183.5 1670.4) scale(1 1.04)" font-size="40.5" text-anchor="end" font-weight="normal" fill="#000">1000</text>
<line x1="196.3" y1="1752.0" x2="215.5" y2="1752.0" stroke="#000" stroke-width="4.5" stroke-linecap="butt"/>
<text transform="translate(183.5 1765.8) scale(1 1.04)" font-size="40.5" text-anchor="end" font-weight="normal" fill="#000">0</text>
<line x1="196.3" y1="1752.0" x2="1581.67" y2="1752.0" stroke="#000" stroke-width="4.5" stroke-linecap="butt"/>
<line x1="215.5" y1="1752.0" x2="215.5" y2="1772.0" stroke="#000" stroke-width="4.5" stroke-linecap="butt"/>
<text transform="translate(209.5 1824) scale(1 1.04)" font-size="40.5" text-anchor="middle" font-weight="normal" fill="#000">-2</text>
<line x1="272.33" y1="1752.0" x2="272.33" y2="1762.0" stroke="#000" stroke-width="4.5" stroke-linecap="butt"/>
<line x1="329.15999999999997" y1="1752.0" x2="329.15999999999997" y2="1772.0" stroke="#000" stroke-width="4.5" stroke-linecap="butt"/>
<text transform="translate(329.2 1824) scale(1 1.04)" font-size="40.5" text-anchor="middle" font-weight="normal" fill="#000">0</text>
<line x1="385.99" y1="1752.0" x2="385.99" y2="1762.0" stroke="#000" stroke-width="4.5" stroke-linecap="butt"/>
<line x1="442.82" y1="1752.0" x2="442.82" y2="1772.0" stroke="#000" stroke-width="4.5" stroke-linecap="butt"/>
<text transform="translate(442.8 1824) scale(1 1.04)" font-size="40.5" text-anchor="middle" font-weight="normal" fill="#000">2</text>
<line x1="499.65" y1="1752.0" x2="499.65" y2="1762.0" stroke="#000" stroke-width="4.5" stroke-linecap="butt"/>
<line x1="556.48" y1="1752.0" x2="556.48" y2="1772.0" stroke="#000" stroke-width="4.5" stroke-linecap="butt"/>
<text transform="translate(556.5 1824) scale(1 1.04)" font-size="40.5" text-anchor="middle" font-weight="normal" fill="#000">4</text>
<line x1="613.31" y1="1752.0" x2="613.31" y2="1762.0" stroke="#000" stroke-width="4.5" stroke-linecap="butt"/>
<line x1="670.14" y1="1752.0" x2="670.14" y2="1772.0" stroke="#000" stroke-width="4.5" stroke-linecap="butt"/>
<text transform="translate(670.1 1824) scale(1 1.04)" font-size="40.5" text-anchor="middle" font-weight="normal" fill="#000">6</text>
<line x1="726.97" y1="1752.0" x2="726.97" y2="1762.0" stroke="#000" stroke-width="4.5" stroke-linecap="butt"/>
<line x1="783.8" y1="1752.0" x2="783.8" y2="1772.0" stroke="#000" stroke-width="4.5" stroke-linecap="butt"/>
<text transform="translate(783.8 1824) scale(1 1.04)" font-size="40.5" text-anchor="middle" font-weight="normal" fill="#000">8</text>
<line x1="840.63" y1="1752.0" x2="840.63" y2="1762.0" stroke="#000" stroke-width="4.5" stroke-linecap="butt"/>
<line x1="897.46" y1="1752.0" x2="897.46" y2="1772.0" stroke="#000" stroke-width="4.5" stroke-linecap="butt"/>
<text transform="translate(897.5 1824) scale(1 1.04)" font-size="40.5" text-anchor="middle" font-weight="normal" fill="#000">10</text>
<line x1="954.29" y1="1752.0" x2="954.29" y2="1762.0" stroke="#000" stroke-width="4.5" stroke-linecap="butt"/>
<line x1="1011.12" y1="1752.0" x2="1011.12" y2="1772.0" stroke="#000" stroke-width="4.5" stroke-linecap="butt"/>
<text transform="translate(1011.1 1824) scale(1 1.04)" font-size="40.5" text-anchor="middle" font-weight="normal" fill="#000">12</text>
<line x1="1067.9499999999998" y1="1752.0" x2="1067.9499999999998" y2="1762.0" stroke="#000" stroke-width="4.5" stroke-linecap="butt"/>
<line x1="1124.78" y1="1752.0" x2="1124.78" y2="1772.0" stroke="#000" stroke-width="4.5" stroke-linecap="butt"/>
<text transform="translate(1124.8 1824) scale(1 1.04)" font-size="40.5" text-anchor="middle" font-weight="normal" fill="#000">14</text>
<line x1="1181.6100000000001" y1="1752.0" x2="1181.6100000000001" y2="1762.0" stroke="#000" stroke-width="4.5" stroke-linecap="butt"/>
<line x1="1238.44" y1="1752.0" x2="1238.44" y2="1772.0" stroke="#000" stroke-width="4.5" stroke-linecap="butt"/>
<text transform="translate(1238.4 1824) scale(1 1.04)" font-size="40.5" text-anchor="middle" font-weight="normal" fill="#000">16</text>
<line x1="1295.27" y1="1752.0" x2="1295.27" y2="1762.0" stroke="#000" stroke-width="4.5" stroke-linecap="butt"/>
<line x1="1352.1" y1="1752.0" x2="1352.1" y2="1772.0" stroke="#000" stroke-width="4.5" stroke-linecap="butt"/>
<text transform="translate(1352.1 1824) scale(1 1.04)" font-size="40.5" text-anchor="middle" font-weight="normal" fill="#000">18</text>
<line x1="1408.93" y1="1752.0" x2="1408.93" y2="1762.0" stroke="#000" stroke-width="4.5" stroke-linecap="butt"/>
<line x1="1465.76" y1="1752.0" x2="1465.76" y2="1772.0" stroke="#000" stroke-width="4.5" stroke-linecap="butt"/>
<text transform="translate(1465.8 1824) scale(1 1.04)" font-size="40.5" text-anchor="middle" font-weight="normal" fill="#000">20</text>
<line x1="1522.59" y1="1752.0" x2="1522.59" y2="1762.0" stroke="#000" stroke-width="4.5" stroke-linecap="butt"/>
<line x1="1579.42" y1="1752.0" x2="1579.42" y2="1772.0" stroke="#000" stroke-width="4.5" stroke-linecap="butt"/>
<text transform="translate(1579.4 1824) scale(1 1.04)" font-size="40.5" text-anchor="middle" font-weight="normal" fill="#000">22</text>
<text transform="translate(897 1877) scale(1 1.04)" font-size="47.5" text-anchor="middle" font-weight="normal" fill="#000">Time (h)</text>
<text transform="translate(47.5 1854.5) rotate(-90) scale(1 1.04)" font-size="47.5" text-anchor="start" font-weight="normal" fill="#000">Distance moved/15 min (cm)</text>
<text transform="translate(9.6 1237.5)" font-size="59.5" text-anchor="start" font-weight="bold" fill="#000">C</text>
<line x1="327" y1="1275" x2="358.7" y2="1275" stroke="#000" stroke-width="4.6" stroke-linecap="butt"/>
<line x1="394" y1="1275" x2="424.8" y2="1275" stroke="#000" stroke-width="4.6" stroke-linecap="butt"/>
<line x1="329" y1="1273" x2="329" y2="1282.5" stroke="#000" stroke-width="4" stroke-linecap="butt"/>
<line x1="423" y1="1273" x2="423" y2="1282.5" stroke="#000" stroke-width="4" stroke-linecap="butt"/>
<text transform="translate(376.2 1304.5)" font-size="55" text-anchor="middle" font-weight="bold" fill="#000">*</text>
<line x1="1278.4" y1="1342.8" x2="1382.1" y2="1342.8" stroke="#969696" stroke-width="4.4" stroke-linecap="butt"/>
<line x1="1278.4" y1="1407.9" x2="1382.1" y2="1407.9" stroke="#000" stroke-width="4.4" stroke-linecap="butt"/>
<text transform="translate(1413.5 1357.3) scale(1 1.04)" font-size="47.5" text-anchor="start" font-weight="normal" fill="#000">noUS</text>
<text transform="translate(1414.5 1422.6) scale(1 1.04)" font-size="47.5" text-anchor="start" font-weight="normal" fill="#000">US</text>
</g>
<g id="panelD">
<rect x="195.0" y="1966.2" width="325.1" height="409.4" fill="#e3e3e3"/>
<polyline points="224.0,2375.6 225.6,2250.5 226.3,2199.6 226.8,2180.7 227.6,2144.3 228.1,2122.0 229.3,2097.0 229.8,2090.8 231.1,2064.8 232.0,2064.8 232.5,2049.9 233.7,2049.9 234.2,2047.2 234.9,2045.7 235.9,2045.7 236.7,2037.1 237.3,2036.0 238.1,2036.0 238.8,2034.9 244.1,2034.9 244.9,2019.2 252.2,2004.2 255.5,1997.1 261.2,1997.1 262.0,1992.6 265.9,1992.6 266.7,1992.6 271.9,1991.4 275.4,1989.6 279.8,1987.9 287.6,1985.7 293.7,1984.8 301.8,1983.7 306.9,1983.7 307.7,1982.3 325.6,1982.3 326.4,1981.3 354.5,1981.3 355.3,1979.8 369.9,1979.4 392.0,1978.9 431.1,1978.3 455.5,1978.2 501.1,1978.0 520.2,1978.0 521.0,1977.9 554.0,1977.9 585.8,1977.9 627.3,1977.9 674.8,1977.8 690.7,1977.8 754.7,1977.8 795.8,1977.8 796.6,1977.8 815.6,1977.8 816.4,1977.8 820.2,1977.8 820.2,1977.8" fill="none" stroke="#000" stroke-width="2.8" stroke-linejoin="round" stroke-miterlimit="3"/>
<polyline points="223.9,2375.6 225.3,2277.2 225.7,2229.4 226.3,2206.4 226.9,2169.8 227.4,2139.2 228.6,2105.5 229.5,2100.6 230.0,2088.0 230.7,2082.2 231.9,2075.2 233.2,2065.6 234.1,2055.6 234.5,2051.2 235.4,2046.5 236.1,2046.5 236.6,2046.5 236.6,2046.5 237.4,2046.5 238.5,2033.1 245.5,2027.9 248.3,2015.3 249.1,2015.3 249.9,2011.1 253.0,2003.6 260.7,1999.7 268.6,1993.6 270.5,1993.6 271.3,1991.4 276.9,1989.6 282.6,1989.6 284.6,1986.6 291.0,1986.6 293.6,1986.6 301.5,1984.2 305.6,1984.2 307.0,1984.2 307.8,1984.2 339.0,1981.8 375.7,1980.5 394.7,1980.3 437.2,1979.7 466.5,1979.5 509.9,1979.5 510.7,1979.2 532.0,1979.2 554.6,1979.1 571.6,1979.1 613.0,1979.1 648.2,1979.1 690.9,1979.1 691.7,1979.1 732.0,1979.1 732.8,1979.1 758.1,1979.1 820.2,1979.0 820.2,1979.0" fill="none" stroke="#000" stroke-width="2.8" stroke-linejoin="round" stroke-miterlimit="3"/>
<polyline points="225.0,2375.6 225.0,2312.5 226.0,2245.9 227.1,2178.9 228.0,2166.0 229.3,2127.2 230.1,2114.9 231.0,2101.8 232.1,2094.0 232.9,2074.4 234.2,2073.6 234.7,2073.6 235.5,2073.6 236.5,2054.3 237.0,2054.3 236.7,2054.3 237.5,2041.6 238.6,2041.6 241.0,2041.6 248.4,2023.5 251.2,2020.0 259.3,2003.0 261.8,2003.0 264.4,2000.5 269.9,2000.5 270.7,1997.8 272.2,1995.7 277.8,1988.5 284.5,1988.5 285.8,1988.5 286.6,1987.5 288.9,1987.5 289.7,1987.5 294.0,1987.3 296.3,1987.3 301.6,1986.0 307.6,1985.2 315.3,1985.0 323.5,1984.3 331.4,1983.4 354.2,1982.0 368.7,1982.0 369.5,1981.6 379.2,1981.6 380.0,1981.3 387.9,1981.3 388.7,1981.1 423.0,1980.6 449.5,1980.6 450.3,1980.5 468.2,1980.5 469.0,1980.4 509.4,1980.3 562.0,1980.3 562.8,1980.3 615.9,1980.3 649.7,1980.3 703.2,1980.3 762.3,1980.3 805.1,1980.3 820.2,1980.3 820.2,1980.3" fill="none" stroke="#000" stroke-width="2.8" stroke-linejoin="round" stroke-miterlimit="3"/>
<polyline points="224.0,2375.6 225.0,2306.2 226.1,2240.9 226.7,2190.2 227.6,2151.8 228.1,2149.1 229.5,2115.7 230.8,2107.4 232.1,2091.9 232.8,2085.4 233.6,2079.9 234.4,2079.9 235.3,2070.8 234.9,2070.8 235.7,2061.8 235.4,2061.8 236.2,2061.8 236.1,2061.8 236.9,2061.8 238.0,2061.8 239.1,2059.8 246.3,2059.8 247.1,2026.8 253.4,2009.7 260.8,2005.8 267.2,1999.6 271.9,1996.2 278.8,1996.2 284.8,1993.3 286.9,1993.3 287.7,1990.3 289.7,1989.6 294.9,1989.6 298.8,1989.6 299.6,1988.9 306.3,1987.7 329.6,1987.7 330.4,1984.4 358.0,1984.4 358.8,1982.8 388.6,1982.8 389.4,1982.1 423.1,1981.8 449.6,1981.6 489.6,1981.5 504.6,1981.5 505.4,1981.5 549.4,1981.5 561.8,1981.5 562.6,1981.5 608.0,1981.5 648.4,1981.5 687.6,1981.5 688.4,1981.5 763.7,1981.5 779.1,1981.5 819.4,1981.5 820.2,1981.5 820.2,1981.5" fill="none" stroke="#000" stroke-width="2.8" stroke-linejoin="round" stroke-miterlimit="3"/>
<polyline points="225.2,2375.6 225.1,2304.7 226.0,2228.9 227.4,2156.1 228.2,2131.3 229.5,2122.8 230.8,2113.0 231.6,2099.6 232.5,2094.2 233.3,2090.8 234.1,2081.2 234.8,2081.2 235.9,2077.2 236.4,2077.2 237.1,2077.2 237.9,2075.0 237.9,2075.0 238.7,2069.5 239.6,2069.5 240.4,2056.1 247.3,2056.1 248.1,2042.5 251.2,2029.1 259.1,2014.4 266.0,2003.6 271.1,2003.6 272.7,2003.6 278.5,1999.5 280.2,1998.1 283.9,1996.4 290.2,1995.3 293.6,1992.1 296.9,1992.1 297.7,1992.1 305.2,1990.5 308.0,1989.5 316.8,1989.5 317.6,1988.9 326.1,1987.4 339.7,1986.3 373.6,1984.9 398.5,1984.0 417.4,1984.0 418.2,1983.8 430.8,1983.4 463.7,1983.3 482.9,1983.2 511.7,1983.2 521.4,1983.2 522.2,1983.2 566.1,1983.1 576.6,1983.1 636.7,1983.1 662.4,1983.1 663.2,1983.1 685.0,1983.1 743.5,1983.1 810.1,1983.1 819.4,1983.1 820.2,1983.1 820.2,1983.1" fill="none" stroke="#000" stroke-width="2.8" stroke-linejoin="round" stroke-miterlimit="3"/>
<polyline points="224.8,2375.6 225.2,2313.5 226.2,2249.2 227.3,2202.0 228.2,2171.5 229.2,2152.8 230.2,2125.1 230.6,2124.6 231.9,2095.3 232.9,2086.3 233.5,2086.3 234.2,2070.2 234.9,2070.2 235.3,2070.2 235.3,2070.2 236.1,2069.9 237.2,2064.3 237.9,2059.1 238.1,2059.1 238.9,2052.9 242.9,2052.9 243.7,2051.5 251.7,2022.2 254.5,2021.8 257.9,2016.9 260.8,2011.2 266.6,2004.3 269.4,2002.0 271.0,2002.0 271.8,2000.3 279.2,1997.7 285.5,1994.7 288.2,1994.7 293.8,1994.7 294.6,1993.6 298.5,1993.0 300.2,1993.0 301.0,1991.9 308.0,1991.9 308.8,1989.8 340.9,1989.8 341.7,1987.5 373.8,1985.7 382.3,1985.7 396.2,1985.3 435.3,1985.3 436.1,1985.0 474.2,1985.0 475.0,1984.8 484.5,1984.8 485.3,1984.8 527.7,1984.7 553.2,1984.7 554.0,1984.7 577.7,1984.7 604.6,1984.7 605.4,1984.7 668.0,1984.7 738.0,1984.7 738.8,1984.7 818.1,1984.7 819.4,1984.7 820.2,1984.7 820.2,1984.7" fill="none" stroke="#000" stroke-width="2.8" stroke-linejoin="round" stroke-miterlimit="3"/>
<polyline points="224.0,2375.6 225.7,2286.0 226.8,2227.4 227.8,2209.7 228.5,2179.9 229.7,2144.4 230.1,2138.5 230.8,2120.3 231.3,2116.8 232.0,2116.3 233.3,2088.1 234.0,2088.1 234.5,2088.1 235.5,2085.4 236.2,2085.4 237.3,2085.4 237.5,2085.4 238.3,2073.6 243.5,2065.0 249.1,2065.0 249.9,2043.5 252.3,2034.0 257.6,2034.0 261.6,2034.0 262.4,2014.5 269.2,2013.6 273.8,2011.2 280.9,2004.2 282.2,2004.2 283.0,2004.2 291.0,1999.4 298.2,1998.7 301.4,1996.6 306.8,1995.8 318.5,1992.8 331.8,1990.9 356.9,1990.9 357.7,1988.7 385.7,1988.7 386.5,1987.7 403.9,1987.7 404.7,1987.2 413.7,1987.2 414.5,1987.2 437.2,1986.8 451.9,1986.7 477.3,1986.5 499.9,1986.4 525.6,1986.4 552.2,1986.4 553.0,1986.4 599.7,1986.4 600.5,1986.3 635.2,1986.3 670.9,1986.3 684.2,1986.3 737.6,1986.3 776.6,1986.3 801.6,1986.3 820.2,1986.3 820.2,1986.3" fill="none" stroke="#000" stroke-width="2.8" stroke-linejoin="round" stroke-miterlimit="3"/>
<polyline points="225.3,2375.6 225.1,2310.0 226.5,2225.4 227.3,2184.4 228.1,2170.0 229.4,2156.4 229.9,2145.5 231.1,2117.0 232.3,2097.3 233.5,2093.2 234.3,2085.0 235.2,2085.0 235.8,2078.8 236.3,2078.8 237.1,2078.8 237.5,2078.8 238.0,2078.8 238.7,2072.7 244.0,2057.9 247.6,2057.9 248.4,2049.6 253.9,2032.7 260.6,2017.2 263.2,2017.2 266.6,2017.2 267.4,2016.5 271.8,2009.8 273.7,2009.8 280.4,2006.0 284.3,2006.0 286.6,2002.3 292.6,2002.3 293.4,2002.3 301.5,1997.4 303.9,1997.4 310.8,1997.4 311.6,1997.4 321.9,1995.1 335.9,1993.9 369.6,1993.9 370.4,1991.1 386.1,1990.7 398.9,1990.7 399.7,1990.0 441.5,1988.9 480.8,1988.9 481.6,1988.5 514.1,1988.3 549.9,1988.1 604.2,1988.1 605.0,1988.0 638.3,1988.0 665.8,1987.9 725.3,1987.9 750.7,1987.9 782.3,1987.9 820.2,1987.9 820.2,1987.9" fill="none" stroke="#000" stroke-width="2.8" stroke-linejoin="round" stroke-miterlimit="3"/>
<polyline points="223.8,2375.6 225.1,2303.5 226.1,2222.8 227.3,2159.5 227.9,2149.7 228.3,2132.4 228.7,2132.4 229.4,2127.2 230.1,2127.2 230.7,2126.4 231.7,2119.5 233.0,2108.4 233.6,2104.1 234.6,2099.2 235.9,2099.2 236.3,2092.1 237.2,2092.1 238.5,2092.1 241.6,2068.8 244.9,2068.8 245.7,2064.4 247.4,2052.6 254.4,2052.6 255.2,2046.1 257.9,2046.1 264.0,2046.1 264.8,2032.7 268.2,2019.0 274.9,2019.0 276.3,2019.0 282.7,2019.0 284.8,2019.0 285.6,2013.5 289.2,2010.7 295.3,2008.8 300.4,2007.7 307.1,2004.0 339.1,2004.0 339.9,1995.4 372.7,1995.4 373.5,1993.3 405.9,1991.5 441.3,1990.6 459.1,1990.5 494.3,1990.1 524.9,1989.9 568.5,1989.7 609.0,1989.6 632.2,1989.6 651.6,1989.6 652.4,1989.6 670.9,1989.6 684.4,1989.6 685.2,1989.5 741.9,1989.5 760.2,1989.5 800.0,1989.5 819.7,1989.5 820.2,1989.5 820.2,1989.5" fill="none" stroke="#000" stroke-width="2.8" stroke-linejoin="round" stroke-miterlimit="3"/>
<polyline points="223.8,2375.6 225.7,2238.2 226.9,2188.6 227.9,2161.1 228.6,2134.4 229.7,2121.5 230.3,2121.5 230.8,2107.6 231.4,2107.6 232.2,2094.5 232.9,2094.3 234.1,2094.3 235.1,2086.4 235.9,2086.4 236.7,2086.4 237.1,2086.4 237.9,2086.3 238.3,2086.3 239.1,2075.9 245.6,2064.0 247.0,2064.0 249.6,2054.8 253.3,2049.9 255.8,2049.9 256.6,2028.5 262.7,2028.5 264.6,2028.5 270.7,2028.5 274.8,2026.4 281.4,2026.4 282.2,2018.1 284.1,2018.1 284.9,2017.5 292.4,2017.3 295.3,2008.4 300.3,2008.4 304.0,2008.4 306.4,2008.4 316.8,2007.5 345.1,1999.1 378.6,1999.1 379.4,1995.8 393.1,1995.6 405.1,1995.6 405.9,1995.4 422.6,1994.0 442.4,1994.0 443.2,1993.2 491.2,1991.9 504.9,1991.8 560.1,1991.5 580.6,1991.4 596.3,1991.4 597.1,1991.3 630.2,1991.3 682.4,1991.2 704.1,1991.2 743.6,1991.2 797.0,1991.1 819.4,1991.1 820.2,1991.1 820.2,1991.1" fill="none" stroke="#000" stroke-width="2.8" stroke-linejoin="round" stroke-miterlimit="3"/>
<polyline points="224.8,2375.6 225.7,2301.7 226.8,2238.8 227.5,2214.3 228.5,2172.8 229.7,2152.1 230.7,2145.8 231.6,2137.1 232.4,2131.0 233.4,2123.0 234.7,2104.8 235.9,2093.2 236.8,2090.4 237.3,2090.4 238.6,2084.6 243.6,2071.7 248.5,2061.7 252.6,2061.7 255.4,2061.7 257.6,2042.3 260.6,2042.3 261.4,2042.3 262.8,2036.1 267.0,2036.1 269.9,2030.6 277.6,2025.2 280.9,2025.2 281.7,2017.0 283.9,2017.0 288.4,2017.0 291.3,2017.0 298.2,2011.1 302.8,2011.1 309.8,2009.9 338.8,2009.9 339.6,2003.1 358.3,2003.1 359.1,1999.3 365.8,1999.1 382.6,1997.1 404.7,1996.3 446.8,1994.7 457.4,1994.0 471.8,1994.0 507.2,1994.0 508.0,1993.2 547.4,1993.2 548.2,1993.1 562.7,1993.1 563.5,1993.0 591.2,1993.0 592.0,1992.9 652.5,1992.8 701.4,1992.8 757.9,1992.8 785.9,1992.8 820.2,1992.8 820.2,1992.8" fill="none" stroke="#000" stroke-width="2.8" stroke-linejoin="round" stroke-miterlimit="3"/>
<polyline points="224.2,2375.6 225.2,2311.6 225.7,2282.0 226.5,2233.1 227.1,2220.6 228.0,2182.5 229.2,2142.4 230.1,2142.4 231.0,2142.4 231.8,2142.4 232.6,2120.5 233.6,2118.6 234.6,2102.1 235.7,2102.1 236.4,2102.1 236.9,2102.1 237.7,2102.1 238.8,2102.1 242.6,2074.0 247.5,2074.0 251.7,2059.3 258.7,2052.4 262.7,2052.4 263.5,2052.4 268.3,2049.4 271.9,2047.6 275.3,2042.3 276.9,2041.3 284.3,2025.7 284.9,2025.7 285.7,2025.7 293.3,2025.7 300.8,2023.9 306.4,2018.2 330.3,2018.2 331.1,2011.5 357.4,2004.1 369.1,2004.1 369.9,2002.9 403.0,1999.7 440.9,1997.5 471.1,1997.5 471.9,1996.2 494.5,1995.4 533.0,1994.8 544.0,1994.8 544.8,1994.7 595.7,1994.3 607.5,1994.3 652.0,1994.1 688.2,1994.1 689.0,1994.1 742.2,1994.1 743.0,1994.0 757.1,1994.0 779.8,1994.0 802.8,1994.0 803.6,1994.0 819.4,1994.0 820.2,1994.0 820.2,1994.0" fill="none" stroke="#000" stroke-width="2.8" stroke-linejoin="round" stroke-miterlimit="3"/>
<polyline points="225.0,2375.6 225.6,2256.9 226.8,2186.8 227.8,2163.1 228.9,2162.0 229.6,2133.2 230.9,2129.5 231.3,2128.4 232.3,2121.5 233.0,2121.5 234.1,2108.6 235.0,2100.1 235.5,2100.1 235.7,2100.1 236.5,2100.1 237.7,2100.1 238.5,2100.1 245.2,2086.7 247.7,2086.7 248.5,2086.7 256.5,2065.8 262.0,2065.8 269.0,2056.4 276.4,2041.4 282.4,2034.9 284.8,2034.9 285.6,2034.9 288.8,2034.9 295.4,2034.9 296.2,2034.9 303.2,2027.2 306.4,2027.2 334.6,2018.0 343.4,2018.0 374.0,2018.0 374.8,2012.2 389.8,2012.2 421.2,2006.9 458.1,2004.0 485.2,2004.0 486.0,2002.9 505.4,2002.9 556.7,2001.3 596.5,2001.3 597.3,2000.4 618.2,2000.4 619.0,2000.2 662.8,1999.9 706.1,1999.9 706.9,1999.4 743.8,1999.4 744.6,1999.4 802.1,1999.3 820.2,1999.3 820.2,1999.3" fill="none" stroke="#000" stroke-width="2.8" stroke-linejoin="round" stroke-miterlimit="3"/>
<polyline points="224.8,2375.6 226.2,2254.7 228.3,2166.0 231.0,2121.7 235.1,2099.5 239.2,2091.1 240.8,2089.9 255.5,2087.9 259.6,2081.8 271.8,2078.6 301.6,2075.0 325.5,2071.7 336.9,2063.7 339.1,2055.6 361.4,2049.6 364.1,2040.3 408.9,2039.1 410.2,2030.6 449.6,2029.8 461.8,2025.4 524.3,2024.2 638.3,2022.6 639.7,2021.0 711.6,2021.0 713.0,2020.6 820.2,2020.6" fill="none" stroke="#000" stroke-width="3" stroke-linejoin="round" stroke-miterlimit="3"/>
<line x1="168.6" y1="1970.35" x2="168.6" y2="2392.6" stroke="#000" stroke-width="4.5" stroke-linecap="butt"/>
<line x1="148.29999999999998" y1="1972.6" x2="168.6" y2="1972.6" stroke="#000" stroke-width="4.5" stroke-linecap="butt"/>
<text transform="translate(140.6 1986.2) scale(1 1.04)" font-size="40.5" text-anchor="end" font-weight="normal" fill="#000">100</text>
<line x1="158.6" y1="2012.8999999999999" x2="168.6" y2="2012.8999999999999" stroke="#000" stroke-width="4.5" stroke-linecap="butt"/>
<line x1="148.29999999999998" y1="2053.2" x2="168.6" y2="2053.2" stroke="#000" stroke-width="4.5" stroke-linecap="butt"/>
<text transform="translate(140.6 2066.8) scale(1 1.04)" font-size="40.5" text-anchor="end" font-weight="normal" fill="#000">80</text>
<line x1="158.6" y1="2093.5" x2="168.6" y2="2093.5" stroke="#000" stroke-width="4.5" stroke-linecap="butt"/>
<line x1="148.29999999999998" y1="2133.7999999999997" x2="168.6" y2="2133.7999999999997" stroke="#000" stroke-width="4.5" stroke-linecap="butt"/>
<text transform="translate(140.6 2147.4) scale(1 1.04)" font-size="40.5" text-anchor="end" font-weight="normal" fill="#000">60</text>
<line x1="158.6" y1="2174.1" x2="168.6" y2="2174.1" stroke="#000" stroke-width="4.5" stroke-linecap="butt"/>
<line x1="148.29999999999998" y1="2214.4" x2="168.6" y2="2214.4" stroke="#000" stroke-width="4.5" stroke-linecap="butt"/>
<text transform="translate(140.6 2228.0) scale(1 1.04)" font-size="40.5" text-anchor="end" font-weight="normal" fill="#000">40</text>
<line x1="158.6" y1="2254.7" x2="168.6" y2="2254.7" stroke="#000" stroke-width="4.5" stroke-linecap="butt"/>
<line x1="148.29999999999998" y1="2295.0" x2="168.6" y2="2295.0" stroke="#000" stroke-width="4.5" stroke-linecap="butt"/>
<text transform="translate(140.6 2308.6) scale(1 1.04)" font-size="40.5" text-anchor="end" font-weight="normal" fill="#000">20</text>
<line x1="158.6" y1="2335.2999999999997" x2="168.6" y2="2335.2999999999997" stroke="#000" stroke-width="4.5" stroke-linecap="butt"/>
<line x1="148.29999999999998" y1="2375.6" x2="168.6" y2="2375.6" stroke="#000" stroke-width="4.5" stroke-linecap="butt"/>
<text transform="translate(140.6 2389.2) scale(1 1.04)" font-size="40.5" text-anchor="end" font-weight="normal" fill="#000">0</text>
<line x1="148.29999999999998" y1="2375.6" x2="822.4499999999999" y2="2375.6" stroke="#000" stroke-width="4.5" stroke-linecap="butt"/>
<line x1="168.6" y1="2375.6" x2="168.6" y2="2392.6" stroke="#000" stroke-width="4.5" stroke-linecap="butt"/>
<text transform="translate(168.6 2440) scale(1 1.04)" font-size="40.5" text-anchor="middle" font-weight="normal" fill="#000">-2</text>
<line x1="195.75" y1="2375.6" x2="195.75" y2="2384.1" stroke="#000" stroke-width="4.5" stroke-linecap="butt"/>
<line x1="222.89999999999998" y1="2375.6" x2="222.89999999999998" y2="2384.1" stroke="#000" stroke-width="4.5" stroke-linecap="butt"/>
<line x1="250.04999999999998" y1="2375.6" x2="250.04999999999998" y2="2384.1" stroke="#000" stroke-width="4.5" stroke-linecap="butt"/>
<line x1="277.2" y1="2375.6" x2="277.2" y2="2392.6" stroke="#000" stroke-width="4.5" stroke-linecap="butt"/>
<text transform="translate(276.2 2440) scale(1 1.04)" font-size="40.5" text-anchor="middle" font-weight="normal" fill="#000">2</text>
<line x1="304.35" y1="2375.6" x2="304.35" y2="2384.1" stroke="#000" stroke-width="4.5" stroke-linecap="butt"/>
<line x1="331.5" y1="2375.6" x2="331.5" y2="2384.1" stroke="#000" stroke-width="4.5" stroke-linecap="butt"/>
<line x1="358.65" y1="2375.6" x2="358.65" y2="2384.1" stroke="#000" stroke-width="4.5" stroke-linecap="butt"/>
<line x1="385.79999999999995" y1="2375.6" x2="385.79999999999995" y2="2392.6" stroke="#000" stroke-width="4.5" stroke-linecap="butt"/>
<text transform="translate(384.8 2440) scale(1 1.04)" font-size="40.5" text-anchor="middle" font-weight="normal" fill="#000">6</text>
<line x1="412.95" y1="2375.6" x2="412.95" y2="2384.1" stroke="#000" stroke-width="4.5" stroke-linecap="butt"/>
<line x1="440.1" y1="2375.6" x2="440.1" y2="2384.1" stroke="#000" stroke-width="4.5" stroke-linecap="butt"/>
<line x1="467.25" y1="2375.6" x2="467.25" y2="2384.1" stroke="#000" stroke-width="4.5" stroke-linecap="butt"/>
<line x1="494.4" y1="2375.6" x2="494.4" y2="2392.6" stroke="#000" stroke-width="4.5" stroke-linecap="butt"/>
<text transform="translate(493.4 2440) scale(1 1.04)" font-size="40.5" text-anchor="middle" font-weight="normal" fill="#000">10</text>
<line x1="521.55" y1="2375.6" x2="521.55" y2="2384.1" stroke="#000" stroke-width="4.5" stroke-linecap="butt"/>
<line x1="548.6999999999999" y1="2375.6" x2="548.6999999999999" y2="2384.1" stroke="#000" stroke-width="4.5" stroke-linecap="butt"/>
<line x1="575.85" y1="2375.6" x2="575.85" y2="2384.1" stroke="#000" stroke-width="4.5" stroke-linecap="butt"/>
<line x1="603.0" y1="2375.6" x2="603.0" y2="2392.6" stroke="#000" stroke-width="4.5" stroke-linecap="butt"/>
<text transform="translate(602.0 2440) scale(1 1.04)" font-size="40.5" text-anchor="middle" font-weight="normal" fill="#000">14</text>
<line x1="630.15" y1="2375.6" x2="630.15" y2="2384.1" stroke="#000" stroke-width="4.5" stroke-linecap="butt"/>
<line x1="657.3" y1="2375.6" x2="657.3" y2="2384.1" stroke="#000" stroke-width="4.5" stroke-linecap="butt"/>
<line x1="684.45" y1="2375.6" x2="684.45" y2="2384.1" stroke="#000" stroke-width="4.5" stroke-linecap="butt"/>
<line x1="711.6" y1="2375.6" x2="711.6" y2="2392.6" stroke="#000" stroke-width="4.5" stroke-linecap="butt"/>
<text transform="translate(710.6 2440) scale(1 1.04)" font-size="40.5" text-anchor="middle" font-weight="normal" fill="#000">18</text>
<line x1="738.75" y1="2375.6" x2="738.75" y2="2384.1" stroke="#000" stroke-width="4.5" stroke-linecap="butt"/>
<line x1="765.9" y1="2375.6" x2="765.9" y2="2384.1" stroke="#000" stroke-width="4.5" stroke-linecap="butt"/>
<line x1="793.05" y1="2375.6" x2="793.05" y2="2384.1" stroke="#000" stroke-width="4.5" stroke-linecap="butt"/>
<line x1="820.1999999999999" y1="2375.6" x2="820.1999999999999" y2="2392.6" stroke="#000" stroke-width="4.5" stroke-linecap="butt"/>
<text transform="translate(819.2 2440) scale(1 1.04)" font-size="40.5" text-anchor="middle" font-weight="normal" fill="#000">22</text>
<line x1="222.89999999999998" y1="2471" x2="222.89999999999998" y2="2405" stroke="#000" stroke-width="1.6" stroke-linecap="butt"/>
<polygon fill="#000" points="222.89999999999998,2395.8 236.79999999999998,2417 222.89999999999998,2409.7 208.99999999999997,2417"/>
<text transform="translate(199.3 1952.3) scale(1 1.04)" font-size="47.5" text-anchor="start" font-weight="normal" fill="#000">noUS</text>
<text transform="translate(48 2406.5) rotate(-90) scale(1 1.04)" font-size="47.5" text-anchor="start" font-weight="normal" fill="#000">Explored HC area (%)</text>
<text transform="translate(10 1928.8)" font-size="59.5" text-anchor="start" font-weight="bold" fill="#000">D</text>
<text transform="translate(496.8 2483.3) scale(1 1.04)" font-size="47.5" text-anchor="middle" font-weight="normal" fill="#000">Time (h)</text>
<rect x="964.1" y="1969.0" width="324.1" height="406.6" fill="#e3e3e3"/>
<polyline points="992.4,2375.6 992.8,2303.1 994.2,2215.0 994.9,2182.5 995.5,2159.6 996.2,2146.0 997.0,2126.5 997.7,2123.0 998.1,2113.4 998.7,2111.2 999.8,2094.0 1001.0,2085.4 1002.1,2073.0 1003.2,2072.3 1004.5,2068.3 1005.7,2056.7 1012.0,2031.4 1015.2,2031.4 1016.0,2031.4 1021.3,2031.4 1022.1,2025.2 1026.6,2016.1 1031.3,2013.3 1038.8,2010.5 1040.3,2010.5 1042.4,2010.5 1045.7,2008.4 1052.1,2008.4 1052.9,2008.4 1053.7,2003.9 1059.8,2003.9 1064.6,2003.9 1066.0,2003.9 1068.5,2003.7 1072.3,2003.7 1073.1,2003.7 1078.3,2003.7 1079.1,2003.7 1103.3,1998.1 1129.5,1996.9 1167.1,1996.1 1182.2,1994.2 1192.2,1992.7 1207.7,1992.0 1245.6,1992.0 1246.4,1990.2 1266.7,1988.8 1309.4,1988.4 1333.7,1988.0 1366.7,1986.8 1386.4,1986.8 1451.2,1986.3 1493.5,1986.1 1528.8,1986.0 1586.8,1986.0 1587.6,1985.7 1587.6,1985.7" fill="none" stroke="#000" stroke-width="2.8" stroke-linejoin="round" stroke-miterlimit="3"/>
<polyline points="992.0,2375.6 992.7,2297.8 993.4,2256.1 994.2,2225.7 994.9,2196.2 995.5,2162.8 996.9,2141.0 997.4,2135.3 998.5,2123.7 999.4,2097.5 999.9,2097.5 1000.9,2096.9 1002.0,2088.9 1002.4,2088.9 1003.2,2074.2 1004.2,2068.1 1004.7,2068.1 1005.4,2068.1 1005.7,2068.1 1006.5,2068.1 1009.3,2040.5 1012.8,2040.5 1014.6,2040.5 1015.4,2040.5 1017.6,2040.5 1022.0,2030.4 1022.8,2030.4 1023.6,2030.4 1030.3,2020.7 1032.6,2020.6 1037.3,2020.6 1038.1,2017.0 1044.5,2011.9 1052.4,2011.9 1059.5,2011.9 1065.9,2007.9 1073.8,2007.9 1090.6,2007.9 1091.4,2006.7 1115.4,1999.5 1129.0,1999.5 1129.8,1999.5 1138.8,1999.5 1168.4,1999.4 1194.7,1999.4 1195.5,1996.1 1230.5,1995.7 1281.1,1993.3 1293.2,1992.8 1311.7,1992.8 1352.6,1992.8 1353.4,1992.4 1417.6,1991.4 1446.0,1991.0 1477.6,1991.0 1478.4,1990.9 1557.1,1990.5 1587.6,1990.4 1587.6,1990.4" fill="none" stroke="#000" stroke-width="2.8" stroke-linejoin="round" stroke-miterlimit="3"/>
<polyline points="992.3,2375.6 992.4,2326.0 993.7,2247.6 994.6,2209.2 995.8,2191.6 997.2,2158.2 998.1,2157.2 999.0,2142.9 1000.0,2142.9 1000.4,2141.6 1001.7,2138.3 1003.0,2138.3 1003.5,2123.0 1004.5,2123.0 1005.0,2123.0 1005.6,2123.0 1010.7,2123.0 1011.5,2098.3 1015.5,2098.3 1016.7,2098.3 1017.5,2076.0 1024.4,2076.0 1025.2,2076.0 1031.3,2061.2 1032.5,2061.2 1033.3,2045.9 1036.3,2045.9 1037.1,2045.9 1041.9,2045.9 1045.8,2045.9 1046.6,2045.9 1051.6,2045.9 1052.4,2044.0 1057.1,2037.8 1060.3,2037.8 1065.2,2024.5 1073.0,2024.5 1079.7,2024.5 1090.9,2021.5 1115.8,2021.5 1116.6,2015.8 1139.9,2009.9 1163.2,2008.1 1198.4,2008.1 1199.2,2002.5 1237.3,2000.3 1258.4,1999.6 1310.2,1999.6 1311.0,1997.9 1337.5,1997.2 1374.6,1996.7 1438.6,1996.4 1477.7,1996.4 1478.5,1996.2 1532.5,1996.1 1572.7,1996.0 1586.8,1996.0 1587.6,1996.0 1587.6,1996.0" fill="none" stroke="#000" stroke-width="2.8" stroke-linejoin="round" stroke-miterlimit="3"/>
<polyline points="992.2,2375.6 992.6,2341.1 993.8,2274.3 994.4,2258.2 995.0,2228.4 996.2,2200.6 997.5,2192.5 998.2,2177.5 999.2,2142.7 999.6,2142.7 1000.8,2142.7 1002.1,2136.3 1002.5,2136.3 1003.3,2129.3 1003.4,2129.3 1004.2,2129.3 1004.4,2129.3 1005.2,2122.4 1006.3,2122.4 1013.1,2100.5 1017.3,2100.5 1020.2,2088.5 1021.9,2088.5 1029.1,2070.8 1033.5,2070.8 1036.7,2070.8 1044.5,2055.9 1049.8,2055.9 1051.1,2055.9 1051.9,2045.3 1054.3,2045.3 1056.7,2039.8 1060.1,2039.8 1066.5,2039.8 1067.3,2039.8 1073.0,2039.8 1073.8,2034.2 1102.0,2022.7 1120.8,2019.2 1156.4,2009.1 1196.3,2006.4 1206.6,2006.4 1207.4,2005.4 1244.4,2001.7 1267.6,2001.7 1268.4,2001.7 1285.8,2001.7 1286.6,2000.1 1321.3,2000.1 1322.1,1999.5 1336.3,1999.5 1383.7,1998.5 1400.6,1998.5 1401.4,1998.2 1427.4,1998.2 1462.2,1998.0 1502.6,1998.0 1503.4,1997.9 1582.0,1997.7 1587.6,1997.7 1587.6,1997.7" fill="none" stroke="#000" stroke-width="2.8" stroke-linejoin="round" stroke-miterlimit="3"/>
<polyline points="992.5,2375.6 992.8,2286.9 993.6,2260.2 994.6,2209.9 995.1,2209.9 996.3,2176.7 996.9,2168.3 997.6,2157.1 998.4,2155.0 999.7,2141.1 1000.2,2141.1 1001.0,2141.1 1001.8,2136.7 1002.4,2130.6 1002.9,2116.6 1002.8,2116.6 1003.6,2116.6 1004.8,2116.6 1005.9,2113.6 1012.3,2107.8 1017.3,2093.3 1019.3,2088.9 1021.7,2088.9 1022.5,2082.0 1028.4,2079.5 1035.2,2072.2 1040.5,2072.2 1041.3,2055.4 1044.1,2046.0 1051.7,2046.0 1056.8,2046.0 1059.5,2046.0 1063.0,2046.0 1063.8,2036.9 1066.6,2036.9 1068.7,2036.9 1072.9,2036.9 1075.0,2036.9 1094.7,2033.2 1104.7,2030.5 1138.8,2030.5 1156.3,2020.4 1171.8,2018.1 1208.3,2010.8 1242.7,2010.8 1267.6,2007.4 1285.7,2006.8 1309.6,2006.8 1335.6,2005.0 1377.1,2005.0 1377.9,2003.7 1419.7,2002.6 1467.7,2001.4 1517.2,2000.8 1571.3,2000.1 1586.8,2000.1 1587.6,2000.1 1587.6,2000.1" fill="none" stroke="#000" stroke-width="2.8" stroke-linejoin="round" stroke-miterlimit="3"/>
<polyline points="991.1,2375.6 993.2,2264.0 993.9,2230.6 994.9,2203.2 995.8,2180.0 997.1,2155.6 998.1,2144.8 998.9,2138.7 999.4,2138.7 1000.3,2138.7 1001.0,2138.7 1001.5,2138.7 1002.0,2138.7 1002.7,2136.4 1002.9,2136.4 1003.7,2125.3 1004.5,2125.3 1005.1,2114.4 1005.5,2114.4 1013.0,2101.5 1014.7,2101.5 1015.5,2081.8 1020.4,2081.8 1024.6,2081.8 1025.4,2076.7 1028.9,2076.7 1029.7,2068.6 1032.0,2068.6 1035.2,2066.0 1041.0,2066.0 1045.3,2066.0 1050.4,2060.4 1057.4,2055.6 1064.3,2046.3 1067.5,2046.3 1068.3,2046.3 1070.9,2046.3 1076.1,2046.3 1076.9,2046.3 1091.1,2039.3 1109.7,2039.3 1110.5,2039.3 1140.2,2039.3 1141.0,2035.9 1179.4,2026.3 1223.5,2021.8 1254.2,2015.7 1271.2,2014.9 1293.7,2014.9 1294.5,2013.5 1311.4,2012.6 1369.2,2010.0 1381.2,2008.8 1400.5,2008.8 1401.3,2008.1 1439.4,2006.3 1461.7,2006.3 1462.5,2005.4 1508.7,2005.4 1509.5,2005.2 1551.2,2005.2 1552.0,2004.4 1587.6,2004.4 1587.6,2004.4" fill="none" stroke="#000" stroke-width="2.8" stroke-linejoin="round" stroke-miterlimit="3"/>
<polyline points="992.5,2375.6 992.5,2325.9 993.8,2219.1 994.2,2209.8 995.3,2166.0 996.1,2166.0 997.3,2159.8 998.6,2136.5 999.6,2136.5 1000.7,2132.0 1001.6,2125.9 1002.4,2125.9 1003.2,2123.3 1004.6,2123.3 1005.3,2123.3 1005.4,2123.3 1006.2,2123.3 1014.0,2093.3 1018.1,2093.3 1024.1,2093.3 1024.9,2084.1 1031.3,2076.2 1035.3,2076.2 1036.1,2073.0 1037.5,2073.0 1038.3,2073.0 1040.6,2066.5 1046.6,2065.7 1053.3,2064.4 1057.8,2057.9 1059.3,2051.9 1065.6,2051.9 1068.9,2050.5 1076.2,2045.8 1097.0,2045.8 1097.8,2037.8 1127.5,2029.9 1134.2,2029.9 1141.2,2029.9 1171.5,2029.9 1172.3,2025.9 1192.1,2025.9 1192.9,2024.8 1217.0,2021.3 1248.1,2017.4 1268.6,2017.4 1269.4,2016.8 1315.8,2013.2 1331.3,2012.1 1354.6,2012.1 1394.2,2010.5 1421.8,2009.5 1452.8,2008.8 1476.1,2008.1 1551.2,2007.9 1575.4,2007.9 1576.2,2007.4 1587.6,2007.4 1587.6,2007.4" fill="none" stroke="#000" stroke-width="2.8" stroke-linejoin="round" stroke-miterlimit="3"/>
<polyline points="991.7,2375.6 992.9,2310.6 993.9,2276.2 994.7,2245.4 995.1,2245.4 995.9,2191.2 996.8,2191.2 997.3,2181.8 998.4,2165.9 998.9,2165.9 999.6,2165.9 1000.7,2151.1 1001.6,2151.1 1002.7,2151.1 1002.8,2151.1 1003.6,2141.7 1004.6,2141.7 1005.8,2141.7 1009.1,2125.2 1011.6,2125.2 1012.4,2125.2 1020.4,2088.7 1025.2,2088.7 1026.0,2082.4 1029.5,2082.4 1035.0,2075.3 1037.6,2075.3 1042.8,2074.0 1049.4,2074.0 1050.2,2064.3 1051.7,2064.3 1052.5,2063.0 1055.4,2063.0 1056.2,2063.0 1061.4,2063.0 1062.8,2063.0 1063.6,2063.0 1066.3,2063.0 1067.1,2057.7 1073.6,2057.7 1090.8,2044.4 1113.4,2037.4 1121.9,2037.4 1144.6,2033.3 1178.7,2029.8 1218.9,2025.8 1247.0,2025.8 1247.8,2022.1 1259.5,2020.3 1291.7,2020.3 1292.5,2020.0 1304.4,2016.5 1324.8,2016.5 1325.6,2015.9 1369.0,2014.1 1406.7,2012.6 1451.1,2011.6 1465.5,2011.6 1510.7,2010.6 1587.6,2009.8 1587.6,2009.8" fill="none" stroke="#000" stroke-width="2.8" stroke-linejoin="round" stroke-miterlimit="3"/>
<polyline points="991.9,2375.6 992.9,2278.6 993.8,2243.5 994.8,2219.5 995.2,2192.0 996.3,2179.9 997.2,2179.9 998.5,2157.6 999.9,2157.6 1000.5,2155.5 1001.6,2155.3 1002.4,2147.4 1002.9,2137.9 1003.9,2137.9 1004.5,2137.9 1005.1,2137.9 1006.1,2137.9 1010.9,2137.9 1011.7,2122.7 1017.3,2107.0 1020.1,2107.0 1024.4,2107.0 1027.7,2098.4 1031.5,2098.4 1035.7,2085.8 1038.0,2082.5 1045.6,2075.2 1052.2,2075.2 1054.5,2075.2 1055.3,2070.2 1060.8,2070.2 1062.7,2070.2 1063.5,2059.7 1066.1,2059.7 1066.9,2056.3 1070.3,2056.3 1075.6,2043.8 1103.7,2043.8 1104.5,2043.8 1134.7,2033.0 1151.7,2033.0 1175.4,2029.8 1212.0,2029.8 1212.8,2023.9 1252.4,2021.3 1291.3,2019.3 1328.0,2015.1 1352.6,2015.1 1394.5,2013.0 1421.4,2012.8 1477.0,2012.0 1525.6,2011.5 1579.7,2011.5 1580.5,2010.8 1587.6,2010.8 1587.6,2010.8" fill="none" stroke="#000" stroke-width="2.8" stroke-linejoin="round" stroke-miterlimit="3"/>
<polyline points="992.3,2375.6 992.7,2314.5 994.0,2263.5 994.8,2219.3 995.9,2200.5 996.8,2194.0 997.2,2185.4 998.4,2161.9 999.0,2149.0 999.7,2149.0 1000.2,2149.0 1001.1,2137.5 1002.2,2137.5 1002.6,2137.5 1003.3,2137.5 1004.3,2137.3 1005.2,2136.3 1006.4,2135.7 1012.2,2135.7 1013.0,2117.2 1016.5,2116.1 1021.7,2116.1 1022.5,2103.9 1030.4,2101.7 1035.5,2101.7 1036.3,2096.7 1044.1,2080.7 1048.4,2080.7 1054.8,2080.7 1055.6,2067.7 1057.5,2067.7 1063.7,2067.7 1067.0,2067.5 1071.6,2067.5 1078.6,2067.3 1107.7,2052.1 1141.8,2041.9 1155.3,2041.9 1156.1,2041.9 1168.9,2038.4 1181.2,2038.4 1182.0,2038.4 1208.4,2032.6 1229.2,2032.6 1241.3,2032.6 1260.3,2032.6 1261.1,2032.6 1273.8,2024.6 1329.8,2020.2 1346.1,2020.0 1403.0,2017.0 1441.2,2016.8 1471.5,2015.5 1514.3,2014.6 1568.3,2014.0 1586.8,2014.0 1587.6,2013.3 1587.6,2013.3" fill="none" stroke="#000" stroke-width="2.8" stroke-linejoin="round" stroke-miterlimit="3"/>
<polyline points="992.6,2375.6 993.0,2281.2 994.4,2217.0 995.3,2201.3 995.8,2199.1 996.6,2184.6 997.2,2174.1 997.7,2171.9 998.2,2169.6 999.4,2165.9 1000.7,2165.9 1001.8,2165.9 1002.3,2165.9 1003.1,2136.4 1003.6,2136.4 1004.7,2136.4 1005.3,2136.4 1005.1,2136.4 1005.9,2136.4 1007.8,2136.4 1012.3,2136.4 1013.1,2136.4 1020.4,2136.4 1021.2,2123.5 1029.0,2116.2 1035.4,2116.2 1036.2,2103.5 1042.4,2103.5 1047.8,2103.5 1048.6,2103.5 1051.3,2093.6 1057.8,2093.6 1058.6,2087.6 1064.6,2076.2 1068.7,2072.8 1072.9,2067.3 1079.7,2062.5 1089.0,2062.5 1089.8,2058.3 1118.2,2053.1 1145.3,2053.1 1146.1,2035.8 1170.0,2035.8 1170.8,2035.8 1181.2,2035.1 1225.9,2035.1 1226.7,2032.5 1258.7,2027.3 1312.9,2020.4 1362.5,2020.0 1414.5,2018.1 1436.7,2016.7 1455.3,2016.7 1479.4,2016.7 1480.2,2016.0 1503.2,2015.9 1582.0,2014.2 1587.6,2014.2 1587.6,2014.2" fill="none" stroke="#000" stroke-width="2.8" stroke-linejoin="round" stroke-miterlimit="3"/>
<polyline points="991.9,2375.6 992.7,2307.7 993.7,2268.7 994.7,2223.2 995.6,2199.2 996.6,2195.0 997.7,2177.2 998.7,2177.2 999.2,2170.4 1000.1,2153.6 1000.9,2153.6 1002.2,2153.6 1003.5,2151.6 1004.1,2142.6 1004.9,2139.1 1005.5,2139.1 1012.2,2139.1 1013.0,2135.4 1017.7,2109.1 1025.2,2099.4 1028.8,2099.4 1031.2,2099.4 1032.0,2099.4 1034.3,2099.4 1035.1,2099.4 1039.4,2099.4 1042.8,2088.8 1048.7,2088.8 1049.5,2088.8 1052.5,2088.8 1056.2,2088.8 1057.0,2085.5 1063.8,2085.5 1064.6,2062.4 1070.1,2062.4 1074.1,2062.4 1074.9,2062.4 1092.7,2062.4 1099.5,2062.4 1100.3,2062.4 1125.7,2062.4 1126.5,2051.5 1155.5,2051.5 1156.3,2045.5 1195.1,2038.0 1225.2,2038.0 1269.9,2031.7 1310.3,2026.5 1361.7,2026.5 1362.5,2022.9 1421.1,2022.9 1421.9,2020.6 1452.6,2020.6 1453.4,2019.4 1479.3,2019.4 1532.0,2019.4 1532.8,2018.0 1558.4,2017.3 1581.0,2016.9 1587.6,2016.5 1587.6,2016.5" fill="none" stroke="#000" stroke-width="2.8" stroke-linejoin="round" stroke-miterlimit="3"/>
<polyline points="991.3,2375.6 992.6,2305.5 993.6,2242.5 994.2,2224.8 994.9,2203.4 995.9,2194.0 996.9,2175.2 997.5,2167.5 997.9,2167.5 999.0,2162.6 999.7,2162.6 1000.1,2150.3 1001.3,2150.3 1002.1,2150.3 1002.8,2141.4 1002.5,2141.4 1003.3,2141.4 1003.3,2141.4 1004.1,2141.4 1005.0,2141.4 1005.9,2141.4 1010.2,2138.7 1013.4,2137.5 1020.2,2114.5 1027.0,2114.5 1029.3,2105.3 1032.8,2105.3 1033.6,2105.3 1037.3,2105.3 1038.1,2102.7 1039.6,2102.7 1047.5,2093.9 1052.8,2084.3 1060.0,2084.3 1060.8,2084.3 1067.7,2084.3 1072.3,2084.3 1073.1,2069.3 1076.6,2060.0 1089.2,2060.0 1104.4,2058.0 1122.4,2050.7 1138.1,2050.7 1168.2,2046.5 1198.9,2046.5 1199.7,2037.7 1219.2,2036.1 1230.2,2036.1 1231.0,2036.1 1255.6,2036.1 1256.4,2033.0 1298.7,2033.0 1299.5,2030.6 1314.9,2030.6 1365.9,2023.9 1427.7,2023.9 1428.5,2023.9 1472.1,2021.5 1503.6,2021.5 1532.8,2020.4 1586.8,2020.4 1587.6,2018.8 1587.6,2018.8" fill="none" stroke="#000" stroke-width="2.8" stroke-linejoin="round" stroke-miterlimit="3"/>
<polyline points="991.1,2375.6 993.0,2315.7 994.4,2247.6 995.6,2225.6 996.2,2222.5 997.3,2194.9 998.2,2192.8 999.2,2170.2 999.8,2170.2 1000.8,2170.2 1002.1,2170.2 1002.5,2168.4 1003.3,2168.4 1004.4,2154.1 1004.9,2154.1 1005.4,2154.1 1005.9,2154.1 1006.7,2154.1 1009.7,2145.2 1014.5,2137.9 1018.2,2137.9 1019.0,2137.9 1019.7,2137.9 1020.5,2130.7 1023.0,2111.8 1030.3,2111.8 1036.4,2111.8 1042.1,2109.6 1049.4,2101.4 1057.1,2090.2 1059.2,2090.2 1063.8,2090.2 1066.1,2090.2 1073.6,2083.7 1083.9,2083.7 1084.7,2076.8 1101.0,2070.6 1115.4,2057.5 1139.6,2053.3 1163.7,2052.3 1179.1,2052.3 1179.9,2052.1 1195.5,2047.8 1228.1,2047.8 1252.6,2039.1 1279.4,2032.3 1303.4,2031.2 1344.8,2031.2 1345.6,2029.0 1372.3,2026.8 1436.1,2023.5 1457.8,2023.5 1458.6,2023.5 1519.0,2021.3 1561.1,2020.4 1587.6,2020.3 1587.6,2020.3" fill="none" stroke="#000" stroke-width="2.8" stroke-linejoin="round" stroke-miterlimit="3"/>
<polyline points="992.2,2375.6 992.5,2330.4 993.0,2327.8 993.5,2296.2 994.3,2278.0 995.2,2248.0 995.6,2228.6 996.5,2212.6 997.5,2199.4 998.5,2188.5 999.0,2188.5 999.4,2180.9 1000.2,2173.1 1001.4,2173.1 1002.4,2171.9 1003.5,2165.7 1003.6,2165.7 1004.4,2165.7 1005.3,2151.6 1005.8,2151.6 1007.7,2151.6 1008.5,2151.6 1015.7,2136.7 1020.5,2133.8 1025.4,2124.8 1032.7,2117.6 1035.1,2117.6 1035.9,2117.6 1041.9,2117.6 1042.7,2114.7 1046.1,2104.7 1049.8,2104.7 1050.6,2091.9 1056.0,2088.9 1059.0,2088.9 1062.6,2088.9 1070.4,2088.9 1077.1,2088.9 1077.9,2080.4 1103.6,2069.4 1139.6,2059.3 1150.9,2058.4 1177.6,2049.7 1207.9,2048.3 1246.2,2038.4 1257.8,2038.4 1273.5,2038.4 1290.8,2033.8 1343.5,2033.8 1344.3,2029.9 1358.5,2029.9 1359.3,2029.9 1398.9,2029.3 1452.5,2025.0 1490.6,2023.6 1530.8,2023.1 1586.8,2023.1 1587.6,2021.5 1587.6,2021.5" fill="none" stroke="#000" stroke-width="2.8" stroke-linejoin="round" stroke-miterlimit="3"/>
<polyline points="992.2,2375.6 993.6,2286.9 995.7,2230.5 999.8,2206.3 1006.6,2194.2 1007.1,2178.1 1012.0,2159.2 1013.4,2156.0 1022.9,2153.1 1024.2,2148.3 1044.6,2145.1 1065.0,2143.5 1066.3,2132.6 1073.4,2118.5 1093.5,2115.3 1098.9,2105.6 1126.0,2099.9 1131.5,2089.5 1133.7,2066.1 1139.6,2059.2 1199.4,2056.8 1203.4,2050.0 1256.4,2045.1 1269.9,2039.5 1329.7,2036.3 1332.4,2033.0 1424.7,2032.2 1587.6,2031.4" fill="none" stroke="#000" stroke-width="3" stroke-linejoin="round" stroke-miterlimit="3"/>
<polyline points="992.2,2375.6 993.6,2274.8 995.7,2214.4 1001.2,2186.2 1006.6,2178.1 1012.0,2168.1 1013.4,2145.9 1017.5,2141.9 1018.8,2115.7 1031.0,2111.6 1032.4,2101.6 1052.7,2097.5 1054.1,2087.5 1069.0,2083.4 1082.6,2069.3 1104.3,2063.3 1134.2,2059.2 1135.6,2047.2 1180.3,2043.1 1212.9,2037.1 1248.2,2031.8 1289.0,2028.2 1343.2,2025.8 1346.0,2023.0 1424.7,2021.8 1587.6,2021.0" fill="none" stroke="#000" stroke-width="3" stroke-linejoin="round" stroke-miterlimit="3"/>
<line x1="936.0" y1="1970.35" x2="936.0" y2="2392.6" stroke="#000" stroke-width="4.5" stroke-linecap="butt"/>
<line x1="915.7" y1="1972.6" x2="936.0" y2="1972.6" stroke="#000" stroke-width="4.5" stroke-linecap="butt"/>
<text transform="translate(908.0 1986.2) scale(1 1.04)" font-size="40.5" text-anchor="end" font-weight="normal" fill="#000">100</text>
<line x1="926.0" y1="2012.8999999999999" x2="936.0" y2="2012.8999999999999" stroke="#000" stroke-width="4.5" stroke-linecap="butt"/>
<line x1="915.7" y1="2053.2" x2="936.0" y2="2053.2" stroke="#000" stroke-width="4.5" stroke-linecap="butt"/>
<text transform="translate(908.0 2066.8) scale(1 1.04)" font-size="40.5" text-anchor="end" font-weight="normal" fill="#000">80</text>
<line x1="926.0" y1="2093.5" x2="936.0" y2="2093.5" stroke="#000" stroke-width="4.5" stroke-linecap="butt"/>
<line x1="915.7" y1="2133.7999999999997" x2="936.0" y2="2133.7999999999997" stroke="#000" stroke-width="4.5" stroke-linecap="butt"/>
<text transform="translate(908.0 2147.4) scale(1 1.04)" font-size="40.5" text-anchor="end" font-weight="normal" fill="#000">60</text>
<line x1="926.0" y1="2174.1" x2="936.0" y2="2174.1" stroke="#000" stroke-width="4.5" stroke-linecap="butt"/>
<line x1="915.7" y1="2214.4" x2="936.0" y2="2214.4" stroke="#000" stroke-width="4.5" stroke-linecap="butt"/>
<text transform="translate(908.0 2228.0) scale(1 1.04)" font-size="40.5" text-anchor="end" font-weight="normal" fill="#000">40</text>
<line x1="926.0" y1="2254.7" x2="936.0" y2="2254.7" stroke="#000" stroke-width="4.5" stroke-linecap="butt"/>
<line x1="915.7" y1="2295.0" x2="936.0" y2="2295.0" stroke="#000" stroke-width="4.5" stroke-linecap="butt"/>
<text transform="translate(908.0 2308.6) scale(1 1.04)" font-size="40.5" text-anchor="end" font-weight="normal" fill="#000">20</text>
<line x1="926.0" y1="2335.2999999999997" x2="936.0" y2="2335.2999999999997" stroke="#000" stroke-width="4.5" stroke-linecap="butt"/>
<line x1="915.7" y1="2375.6" x2="936.0" y2="2375.6" stroke="#000" stroke-width="4.5" stroke-linecap="butt"/>
<text transform="translate(908.0 2389.2) scale(1 1.04)" font-size="40.5" text-anchor="end" font-weight="normal" fill="#000">0</text>
<line x1="915.7" y1="2375.6" x2="1589.85" y2="2375.6" stroke="#000" stroke-width="4.5" stroke-linecap="butt"/>
<line x1="936.0" y1="2375.6" x2="936.0" y2="2392.6" stroke="#000" stroke-width="4.5" stroke-linecap="butt"/>
<text transform="translate(933.6 2440) scale(1 1.04)" font-size="40.5" text-anchor="middle" font-weight="normal" fill="#000">-2</text>
<line x1="963.15" y1="2375.6" x2="963.15" y2="2384.1" stroke="#000" stroke-width="4.5" stroke-linecap="butt"/>
<line x1="990.3" y1="2375.6" x2="990.3" y2="2384.1" stroke="#000" stroke-width="4.5" stroke-linecap="butt"/>
<line x1="1017.45" y1="2375.6" x2="1017.45" y2="2384.1" stroke="#000" stroke-width="4.5" stroke-linecap="butt"/>
<line x1="1044.6" y1="2375.6" x2="1044.6" y2="2392.6" stroke="#000" stroke-width="4.5" stroke-linecap="butt"/>
<text transform="translate(1043.6 2440) scale(1 1.04)" font-size="40.5" text-anchor="middle" font-weight="normal" fill="#000">2</text>
<line x1="1071.75" y1="2375.6" x2="1071.75" y2="2384.1" stroke="#000" stroke-width="4.5" stroke-linecap="butt"/>
<line x1="1098.9" y1="2375.6" x2="1098.9" y2="2384.1" stroke="#000" stroke-width="4.5" stroke-linecap="butt"/>
<line x1="1126.05" y1="2375.6" x2="1126.05" y2="2384.1" stroke="#000" stroke-width="4.5" stroke-linecap="butt"/>
<line x1="1153.2" y1="2375.6" x2="1153.2" y2="2392.6" stroke="#000" stroke-width="4.5" stroke-linecap="butt"/>
<text transform="translate(1152.2 2440) scale(1 1.04)" font-size="40.5" text-anchor="middle" font-weight="normal" fill="#000">6</text>
<line x1="1180.35" y1="2375.6" x2="1180.35" y2="2384.1" stroke="#000" stroke-width="4.5" stroke-linecap="butt"/>
<line x1="1207.5" y1="2375.6" x2="1207.5" y2="2384.1" stroke="#000" stroke-width="4.5" stroke-linecap="butt"/>
<line x1="1234.65" y1="2375.6" x2="1234.65" y2="2384.1" stroke="#000" stroke-width="4.5" stroke-linecap="butt"/>
<line x1="1261.8" y1="2375.6" x2="1261.8" y2="2392.6" stroke="#000" stroke-width="4.5" stroke-linecap="butt"/>
<text transform="translate(1260.8 2440) scale(1 1.04)" font-size="40.5" text-anchor="middle" font-weight="normal" fill="#000">10</text>
<line x1="1288.95" y1="2375.6" x2="1288.95" y2="2384.1" stroke="#000" stroke-width="4.5" stroke-linecap="butt"/>
<line x1="1316.1" y1="2375.6" x2="1316.1" y2="2384.1" stroke="#000" stroke-width="4.5" stroke-linecap="butt"/>
<line x1="1343.25" y1="2375.6" x2="1343.25" y2="2384.1" stroke="#000" stroke-width="4.5" stroke-linecap="butt"/>
<line x1="1370.4" y1="2375.6" x2="1370.4" y2="2392.6" stroke="#000" stroke-width="4.5" stroke-linecap="butt"/>
<text transform="translate(1369.4 2440) scale(1 1.04)" font-size="40.5" text-anchor="middle" font-weight="normal" fill="#000">14</text>
<line x1="1397.55" y1="2375.6" x2="1397.55" y2="2384.1" stroke="#000" stroke-width="4.5" stroke-linecap="butt"/>
<line x1="1424.7" y1="2375.6" x2="1424.7" y2="2384.1" stroke="#000" stroke-width="4.5" stroke-linecap="butt"/>
<line x1="1451.85" y1="2375.6" x2="1451.85" y2="2384.1" stroke="#000" stroke-width="4.5" stroke-linecap="butt"/>
<line x1="1479.0" y1="2375.6" x2="1479.0" y2="2392.6" stroke="#000" stroke-width="4.5" stroke-linecap="butt"/>
<text transform="translate(1478.0 2440) scale(1 1.04)" font-size="40.5" text-anchor="middle" font-weight="normal" fill="#000">18</text>
<line x1="1506.15" y1="2375.6" x2="1506.15" y2="2384.1" stroke="#000" stroke-width="4.5" stroke-linecap="butt"/>
<line x1="1533.3" y1="2375.6" x2="1533.3" y2="2384.1" stroke="#000" stroke-width="4.5" stroke-linecap="butt"/>
<line x1="1560.4499999999998" y1="2375.6" x2="1560.4499999999998" y2="2384.1" stroke="#000" stroke-width="4.5" stroke-linecap="butt"/>
<line x1="1587.6" y1="2375.6" x2="1587.6" y2="2392.6" stroke="#000" stroke-width="4.5" stroke-linecap="butt"/>
<text transform="translate(1586.6 2440) scale(1 1.04)" font-size="40.5" text-anchor="middle" font-weight="normal" fill="#000">22</text>
<line x1="990.3" y1="2471" x2="990.3" y2="2405" stroke="#000" stroke-width="1.6" stroke-linecap="butt"/>
<polygon fill="#000" points="990.3,2395.8 1004.1999999999999,2417 990.3,2409.7 976.4,2417"/>
<text transform="translate(964.5 1952.3) scale(1 1.04)" font-size="47.5" text-anchor="start" font-weight="normal" fill="#000">US</text>
<text transform="translate(1266.6 2483.3) scale(1 1.04)" font-size="47.5" text-anchor="middle" font-weight="normal" fill="#000">Time (h)</text>
</g>
</svg>
</body></html>
